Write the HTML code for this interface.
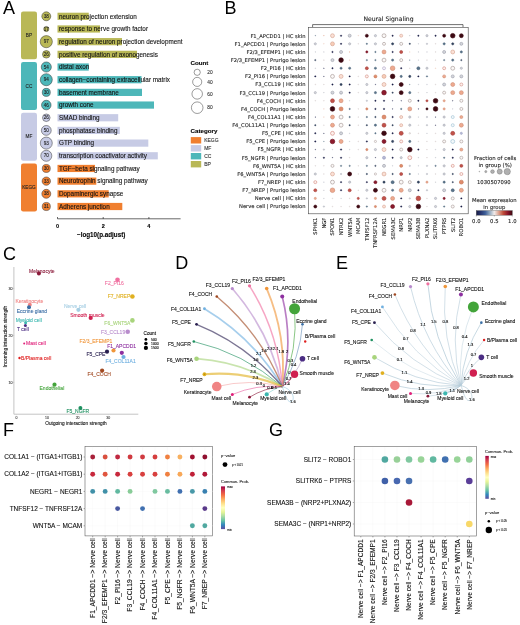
<!DOCTYPE html>
<html><head><meta charset="utf-8"><title>Figure</title>
<style>
html,body{margin:0;padding:0;background:#fff;}
svg{display:block;}
text{stroke-width:0.1px;}
text.l{font-family:"Liberation Sans",sans-serif;}
text.d{font-family:"DejaVu Sans",sans-serif;}
</style></head><body>
<svg width="520" height="625" viewBox="0 0 520 625">
<rect width="520" height="625" fill="#fff"/>
<text class="l" x="3.10" y="14.00" font-size="18" stroke="#000" style="stroke-width:0">A</text>
<rect x="21" y="11.40" width="16" height="47.84" rx="2.2" fill="#b9b857"/>
<text class="l" x="28.90" y="37.02" font-size="4.7" text-anchor="middle" fill="#222" stroke="#222">BP</text>
<rect x="21" y="62.12" width="16" height="47.84" rx="2.2" fill="#4db7b9"/>
<text class="l" x="28.90" y="87.74" font-size="4.7" text-anchor="middle" fill="#222" stroke="#222">CC</text>
<rect x="21" y="112.84" width="16" height="47.84" rx="2.2" fill="#c7cbe5"/>
<text class="l" x="28.90" y="138.46" font-size="4.7" text-anchor="middle" fill="#222" stroke="#222">MF</text>
<rect x="21" y="163.56" width="16" height="47.84" rx="2.2" fill="#f07f2f"/>
<text class="l" x="28.90" y="189.18" font-size="4.7" text-anchor="middle" fill="#222" stroke="#222">KEGG</text>
<rect x="57.5" y="12.70" width="31.25" height="7.2" fill="#b9b857"/>
<circle cx="46.3" cy="16.30" r="4.48" fill="#b9b857" stroke="#222" stroke-width="0.45"/>
<text class="l" x="46.30" y="17.95" font-size="4.6" text-anchor="middle" fill="#222" stroke="#222">38</text>
<text class="l" x="59.00" y="18.50" font-size="6.33" fill="#111" stroke="#111">neuron projection extension</text>
<rect x="57.5" y="25.38" width="42.50" height="7.2" fill="#b9b857"/>
<circle cx="46.3" cy="28.98" r="2.58" fill="#b9b857" stroke="#222" stroke-width="0.45"/>
<text class="l" x="46.30" y="30.63" font-size="4.6" text-anchor="middle" fill="#222" stroke="#222">17</text>
<text class="l" x="59.00" y="31.18" font-size="6.33" fill="#111" stroke="#111">response to nerve growth factor</text>
<rect x="57.5" y="38.06" width="64.50" height="7.2" fill="#b9b857"/>
<circle cx="46.3" cy="41.66" r="6.08" fill="#b9b857" stroke="#222" stroke-width="0.45"/>
<text class="l" x="46.30" y="43.31" font-size="4.6" text-anchor="middle" fill="#222" stroke="#222">97</text>
<text class="l" x="59.00" y="43.86" font-size="6.33" fill="#111" stroke="#111">regulation of neuron projection development</text>
<rect x="57.5" y="50.74" width="79.50" height="7.2" fill="#b9b857"/>
<circle cx="46.3" cy="54.34" r="3.78" fill="#b9b857" stroke="#222" stroke-width="0.45"/>
<text class="l" x="46.30" y="55.99" font-size="4.6" text-anchor="middle" fill="#222" stroke="#222">26</text>
<text class="l" x="59.00" y="56.54" font-size="6.33" fill="#111" stroke="#111">positive regulation of axonogenesis</text>
<rect x="57.5" y="63.42" width="31.25" height="7.2" fill="#4db7b9"/>
<circle cx="46.3" cy="67.02" r="5.07" fill="#4db7b9" stroke="#222" stroke-width="0.45"/>
<text class="l" x="46.30" y="68.67" font-size="4.6" text-anchor="middle" fill="#222" stroke="#222">54</text>
<text class="l" x="59.00" y="69.22" font-size="6.33" fill="#111" stroke="#111">distal axon</text>
<rect x="57.5" y="76.10" width="84.00" height="7.2" fill="#4db7b9"/>
<circle cx="46.3" cy="79.70" r="6.03" fill="#4db7b9" stroke="#222" stroke-width="0.45"/>
<text class="l" x="46.30" y="81.35" font-size="4.6" text-anchor="middle" fill="#222" stroke="#222">94</text>
<text class="l" x="59.00" y="81.90" font-size="6.33" fill="#111" stroke="#111">collagen−containing extracellular matrix</text>
<rect x="57.5" y="88.78" width="84.50" height="7.2" fill="#4db7b9"/>
<circle cx="46.3" cy="92.38" r="4.01" fill="#4db7b9" stroke="#222" stroke-width="0.45"/>
<text class="l" x="46.30" y="94.03" font-size="4.6" text-anchor="middle" fill="#222" stroke="#222">30</text>
<text class="l" x="59.00" y="94.58" font-size="6.33" fill="#111" stroke="#111">basement membrane</text>
<rect x="57.5" y="101.46" width="96.50" height="7.2" fill="#4db7b9"/>
<circle cx="46.3" cy="105.06" r="4.79" fill="#4db7b9" stroke="#222" stroke-width="0.45"/>
<text class="l" x="46.30" y="106.71" font-size="4.6" text-anchor="middle" fill="#222" stroke="#222">46</text>
<text class="l" x="59.00" y="107.26" font-size="6.33" fill="#111" stroke="#111">growth cone</text>
<rect x="57.5" y="114.14" width="60.70" height="7.2" fill="#c7cbe5"/>
<circle cx="46.3" cy="117.74" r="3.78" fill="#c7cbe5" stroke="#222" stroke-width="0.45"/>
<text class="l" x="46.30" y="119.39" font-size="4.6" text-anchor="middle" fill="#222" stroke="#222">26</text>
<text class="l" x="59.00" y="119.94" font-size="6.33" fill="#111" stroke="#111">SMAD binding</text>
<rect x="57.5" y="126.82" width="62.30" height="7.2" fill="#c7cbe5"/>
<circle cx="46.3" cy="130.42" r="4.93" fill="#c7cbe5" stroke="#222" stroke-width="0.45"/>
<text class="l" x="46.30" y="132.07" font-size="4.6" text-anchor="middle" fill="#222" stroke="#222">50</text>
<text class="l" x="59.00" y="132.62" font-size="6.33" fill="#111" stroke="#111">phosphatase binding</text>
<rect x="57.5" y="139.50" width="90.80" height="7.2" fill="#c7cbe5"/>
<circle cx="46.3" cy="143.10" r="6.01" fill="#c7cbe5" stroke="#222" stroke-width="0.45"/>
<text class="l" x="46.30" y="144.75" font-size="4.6" text-anchor="middle" fill="#222" stroke="#222">93</text>
<text class="l" x="59.00" y="145.30" font-size="6.33" fill="#111" stroke="#111">GTP binding</text>
<rect x="57.5" y="152.18" width="100.30" height="7.2" fill="#c7cbe5"/>
<circle cx="46.3" cy="155.78" r="5.53" fill="#c7cbe5" stroke="#222" stroke-width="0.45"/>
<text class="l" x="46.30" y="157.43" font-size="4.6" text-anchor="middle" fill="#222" stroke="#222">70</text>
<text class="l" x="59.00" y="157.98" font-size="6.33" fill="#111" stroke="#111">transcription coactivator activity</text>
<rect x="57.5" y="164.86" width="37.50" height="7.2" fill="#f07f2f"/>
<circle cx="46.3" cy="168.46" r="4.01" fill="#f07f2f" stroke="#222" stroke-width="0.45"/>
<text class="l" x="46.30" y="170.11" font-size="4.6" text-anchor="middle" fill="#222" stroke="#222">30</text>
<text class="l" x="59.00" y="170.66" font-size="6.33" fill="#111" stroke="#111">TGF−beta signaling pathway</text>
<rect x="57.5" y="177.54" width="38.80" height="7.2" fill="#f07f2f"/>
<circle cx="46.3" cy="181.14" r="4.19" fill="#f07f2f" stroke="#222" stroke-width="0.45"/>
<text class="l" x="46.30" y="182.79" font-size="4.6" text-anchor="middle" fill="#222" stroke="#222">33</text>
<text class="l" x="59.00" y="183.34" font-size="6.33" fill="#111" stroke="#111">Neurotrophin signaling pathway</text>
<rect x="57.5" y="190.22" width="51.20" height="7.2" fill="#f07f2f"/>
<circle cx="46.3" cy="193.82" r="4.48" fill="#f07f2f" stroke="#222" stroke-width="0.45"/>
<text class="l" x="46.30" y="195.47" font-size="4.6" text-anchor="middle" fill="#222" stroke="#222">38</text>
<text class="l" x="59.00" y="196.02" font-size="6.33" fill="#111" stroke="#111">Dopaminergic synapse</text>
<rect x="57.5" y="202.90" width="64.80" height="7.2" fill="#f07f2f"/>
<circle cx="46.3" cy="206.50" r="4.07" fill="#f07f2f" stroke="#222" stroke-width="0.45"/>
<text class="l" x="46.30" y="208.15" font-size="4.6" text-anchor="middle" fill="#222" stroke="#222">31</text>
<text class="l" x="59.00" y="208.70" font-size="6.33" fill="#111" stroke="#111">Adherens junction</text>
<path d="M57.5 218.8H180.6" stroke="#000" stroke-width="0.6" fill="none"/>
<path d="M57.5 217.0v1.8" stroke="#000" stroke-width="0.6"/>
<text class="l" x="57.50" y="227.60" font-size="5.5" text-anchor="middle" font-weight="bold" stroke="#000">0</text>
<path d="M103.2 217.0v1.8" stroke="#000" stroke-width="0.6"/>
<text class="l" x="103.20" y="227.60" font-size="5.5" text-anchor="middle" font-weight="bold" stroke="#000">2</text>
<path d="M148.9 217.0v1.8" stroke="#000" stroke-width="0.6"/>
<text class="l" x="148.90" y="227.60" font-size="5.5" text-anchor="middle" font-weight="bold" stroke="#000">4</text>
<text class="l" x="101.20" y="237.40" font-size="6.3" text-anchor="middle" font-weight="bold" stroke="#000">−log10(p.adjust)</text>
<text class="l" x="190.50" y="64.90" font-size="6.2" font-weight="bold" stroke="#000">Count</text>
<circle cx="197.2" cy="72.3" r="3.1" fill="#fff" stroke="#222" stroke-width="0.45"/>
<text class="l" x="207.30" y="74.00" font-size="4.8" fill="#333" stroke="#333">20</text>
<circle cx="197.2" cy="81.9" r="4.55" fill="#fff" stroke="#222" stroke-width="0.45"/>
<text class="l" x="207.30" y="83.60" font-size="4.8" fill="#333" stroke="#333">40</text>
<circle cx="197.2" cy="93.9" r="5.25" fill="#fff" stroke="#222" stroke-width="0.45"/>
<text class="l" x="207.30" y="95.60" font-size="4.8" fill="#333" stroke="#333">60</text>
<circle cx="197.2" cy="107.7" r="5.8" fill="#fff" stroke="#222" stroke-width="0.45"/>
<text class="l" x="207.30" y="109.40" font-size="4.8" fill="#333" stroke="#333">80</text>
<text class="l" x="190.50" y="133.00" font-size="6.2" font-weight="bold" stroke="#000">Category</text>
<rect x="190.8" y="137.10" width="10.4" height="6.4" fill="#f07f2f"/>
<text class="l" x="204.20" y="142.10" font-size="5.0" fill="#333" stroke="#333">KEGG</text>
<rect x="190.8" y="145.10" width="10.4" height="6.4" fill="#c7cbe5"/>
<text class="l" x="204.20" y="150.10" font-size="5.0" fill="#333" stroke="#333">MF</text>
<rect x="190.8" y="153.00" width="10.4" height="6.4" fill="#4db7b9"/>
<text class="l" x="204.20" y="158.00" font-size="5.0" fill="#333" stroke="#333">CC</text>
<rect x="190.8" y="161.00" width="10.4" height="6.4" fill="#b9b857"/>
<text class="l" x="204.20" y="166.00" font-size="5.0" fill="#333" stroke="#333">BP</text>
<text class="l" x="224.50" y="14.00" font-size="18" stroke="#000" style="stroke-width:0">B</text>
<text class="d" x="388.50" y="21.20" font-size="6.1" text-anchor="middle" fill="#222" stroke="#222">Neural Signaling</text>
<path d="M312.6 27.3V24.6H463V27.3" fill="none" stroke="#333" stroke-width="0.7"/>
<rect x="308.5" y="27.4" width="159.7" height="186.4" fill="#fff" stroke="#444" stroke-width="0.6"/>
<text class="d" x="305.50" y="37.60" font-size="5.2" text-anchor="end" fill="#222" stroke="#222">F1_APCDD1 | HC skin</text>
<circle cx="315.30" cy="35.70" r="0.38" fill="#5a758c" stroke="#455d72" stroke-width="0.25"/>
<circle cx="323.89" cy="35.70" r="0.38" fill="#eeaa8f" stroke="#d09079" stroke-width="0.25"/>
<circle cx="332.48" cy="35.70" r="1.95" fill="#fbe0d5" stroke="#d6a593" stroke-width="0.65"/>
<circle cx="341.07" cy="35.70" r="0.72" fill="#1a1e45" stroke="#1a1e45" stroke-width="0.35"/>
<circle cx="349.66" cy="35.70" r="1.5" fill="#d4d6dc" stroke="#9a9ca8" stroke-width="0.6"/>
<circle cx="358.25" cy="35.70" r="0.38" fill="#fbe0d5" stroke="#d6a593" stroke-width="0.25"/>
<circle cx="366.84" cy="35.70" r="1.5" fill="#3c0912" stroke="#3c0912" stroke-width="0.6"/>
<circle cx="375.43" cy="35.70" r="1.1" fill="#d4d6dc" stroke="#9a9ca8" stroke-width="0.5"/>
<circle cx="384.02" cy="35.70" r="1.95" fill="#fbf8f7" stroke="#a59794" stroke-width="0.65"/>
<circle cx="392.61" cy="35.70" r="0.72" fill="#1a1e45" stroke="#1a1e45" stroke-width="0.35"/>
<circle cx="401.20" cy="35.70" r="1.5" fill="#fbe0d5" stroke="#d6a593" stroke-width="0.6"/>
<circle cx="409.79" cy="35.70" r="0.38" fill="#d4d6dc" stroke="#9a9ca8" stroke-width="0.25"/>
<circle cx="418.38" cy="35.70" r="0.72" fill="#1a1e45" stroke="#1a1e45" stroke-width="0.35"/>
<circle cx="426.97" cy="35.70" r="1.1" fill="#d4d6dc" stroke="#9a9ca8" stroke-width="0.5"/>
<circle cx="435.56" cy="35.70" r="0.72" fill="#1a1e45" stroke="#1a1e45" stroke-width="0.35"/>
<circle cx="444.15" cy="35.70" r="1.5" fill="#3c0912" stroke="#3c0912" stroke-width="0.6"/>
<circle cx="452.74" cy="35.70" r="2.3" fill="#3c0912" stroke="#3c0912" stroke-width="0.65"/>
<circle cx="461.33" cy="35.70" r="1.95" fill="#3c0912" stroke="#3c0912" stroke-width="0.65"/>
<text class="d" x="305.50" y="45.73" font-size="5.2" text-anchor="end" fill="#222" stroke="#222">F1_APCDD1 | Prurigo lesion</text>
<circle cx="315.30" cy="43.84" r="1.1" fill="#d4d6dc" stroke="#9a9ca8" stroke-width="0.5"/>
<circle cx="323.89" cy="43.84" r="0.38" fill="#fbe0d5" stroke="#d6a593" stroke-width="0.25"/>
<circle cx="332.48" cy="43.84" r="1.95" fill="#f8cdb8" stroke="#d4a08c" stroke-width="0.65"/>
<circle cx="341.07" cy="43.84" r="0.72" fill="#1a1e45" stroke="#1a1e45" stroke-width="0.35"/>
<circle cx="349.66" cy="43.84" r="1.1" fill="#d4d6dc" stroke="#9a9ca8" stroke-width="0.5"/>
<circle cx="358.25" cy="43.84" r="0.38" fill="#fbf8f7" stroke="#a59794" stroke-width="0.25"/>
<circle cx="366.84" cy="43.84" r="0.72" fill="#5a758c" stroke="#455d72" stroke-width="0.35"/>
<circle cx="375.43" cy="43.84" r="1.1" fill="#d4d6dc" stroke="#9a9ca8" stroke-width="0.5"/>
<circle cx="384.02" cy="43.84" r="1.5" fill="#fbf8f7" stroke="#a59794" stroke-width="0.6"/>
<circle cx="392.61" cy="43.84" r="1.1" fill="#334562" stroke="#28364e" stroke-width="0.5"/>
<circle cx="401.20" cy="43.84" r="1.5" fill="#fbf8f7" stroke="#a59794" stroke-width="0.6"/>
<circle cx="409.79" cy="43.84" r="0.72" fill="#334562" stroke="#28364e" stroke-width="0.35"/>
<circle cx="418.38" cy="43.84" r="0.38" fill="#d4d6dc" stroke="#9a9ca8" stroke-width="0.25"/>
<circle cx="426.97" cy="43.84" r="0.72" fill="#d4d6dc" stroke="#9a9ca8" stroke-width="0.35"/>
<circle cx="435.56" cy="43.84" r="0.38" fill="#fbf8f7" stroke="#a59794" stroke-width="0.25"/>
<circle cx="444.15" cy="43.84" r="1.1" fill="#5a758c" stroke="#455d72" stroke-width="0.5"/>
<circle cx="452.74" cy="43.84" r="1.1" fill="#334562" stroke="#28364e" stroke-width="0.5"/>
<circle cx="461.33" cy="43.84" r="1.5" fill="#d4d6dc" stroke="#9a9ca8" stroke-width="0.6"/>
<text class="d" x="305.50" y="53.87" font-size="5.2" text-anchor="end" fill="#222" stroke="#222">F2/3_EFEMP1 | HC skin</text>
<circle cx="315.30" cy="51.97" r="0.38" fill="#d4d6dc" stroke="#9a9ca8" stroke-width="0.25"/>
<circle cx="323.89" cy="51.97" r="0.38" fill="#d4d6dc" stroke="#9a9ca8" stroke-width="0.25"/>
<circle cx="332.48" cy="51.97" r="0.72" fill="#1a1e45" stroke="#1a1e45" stroke-width="0.35"/>
<circle cx="341.07" cy="51.97" r="1.5" fill="#d4d6dc" stroke="#9a9ca8" stroke-width="0.6"/>
<circle cx="349.66" cy="51.97" r="0.38" fill="#eeaa8f" stroke="#d09079" stroke-width="0.25"/>
<circle cx="366.84" cy="51.97" r="1.1" fill="#8c1a2c" stroke="#701424" stroke-width="0.5"/>
<circle cx="375.43" cy="51.97" r="0.72" fill="#5a758c" stroke="#455d72" stroke-width="0.35"/>
<circle cx="384.02" cy="51.97" r="1.95" fill="#eeaa8f" stroke="#d09079" stroke-width="0.65"/>
<circle cx="392.61" cy="51.97" r="0.72" fill="#1a1e45" stroke="#1a1e45" stroke-width="0.35"/>
<circle cx="401.20" cy="51.97" r="1.5" fill="#c2524a" stroke="#a64440" stroke-width="0.6"/>
<circle cx="409.79" cy="51.97" r="0.38" fill="#fbe0d5" stroke="#d6a593" stroke-width="0.25"/>
<circle cx="418.38" cy="51.97" r="0.38" fill="#d4d6dc" stroke="#9a9ca8" stroke-width="0.25"/>
<circle cx="426.97" cy="51.97" r="0.38" fill="#d4d6dc" stroke="#9a9ca8" stroke-width="0.25"/>
<circle cx="435.56" cy="51.97" r="0.38" fill="#fbf8f7" stroke="#a59794" stroke-width="0.25"/>
<circle cx="444.15" cy="51.97" r="1.5" fill="#d4d6dc" stroke="#9a9ca8" stroke-width="0.6"/>
<circle cx="452.74" cy="51.97" r="1.95" fill="#fbe0d5" stroke="#d6a593" stroke-width="0.65"/>
<circle cx="461.33" cy="51.97" r="1.1" fill="#5a758c" stroke="#455d72" stroke-width="0.5"/>
<text class="d" x="305.50" y="62.01" font-size="5.2" text-anchor="end" fill="#222" stroke="#222">F2/3_EFEMP1 | Prurigo lesion</text>
<circle cx="315.30" cy="60.11" r="0.72" fill="#334562" stroke="#28364e" stroke-width="0.35"/>
<circle cx="323.89" cy="60.11" r="0.38" fill="#fbf8f7" stroke="#a59794" stroke-width="0.25"/>
<circle cx="332.48" cy="60.11" r="1.5" fill="#d4d6dc" stroke="#9a9ca8" stroke-width="0.6"/>
<circle cx="341.07" cy="60.11" r="2.3" fill="#3c0912" stroke="#3c0912" stroke-width="0.65"/>
<circle cx="349.66" cy="60.11" r="0.38" fill="#fbe0d5" stroke="#d6a593" stroke-width="0.25"/>
<circle cx="366.84" cy="60.11" r="0.72" fill="#5a758c" stroke="#455d72" stroke-width="0.35"/>
<circle cx="375.43" cy="60.11" r="0.72" fill="#5a758c" stroke="#455d72" stroke-width="0.35"/>
<circle cx="384.02" cy="60.11" r="1.95" fill="#fbf8f7" stroke="#a59794" stroke-width="0.65"/>
<circle cx="392.61" cy="60.11" r="1.1" fill="#5a758c" stroke="#455d72" stroke-width="0.5"/>
<circle cx="401.20" cy="60.11" r="1.5" fill="#fbf8f7" stroke="#a59794" stroke-width="0.6"/>
<circle cx="409.79" cy="60.11" r="0.38" fill="#5a758c" stroke="#455d72" stroke-width="0.25"/>
<circle cx="418.38" cy="60.11" r="0.38" fill="#d4d6dc" stroke="#9a9ca8" stroke-width="0.25"/>
<circle cx="426.97" cy="60.11" r="0.38" fill="#fbf8f7" stroke="#a59794" stroke-width="0.25"/>
<circle cx="435.56" cy="60.11" r="0.38" fill="#fbf8f7" stroke="#a59794" stroke-width="0.25"/>
<circle cx="444.15" cy="60.11" r="0.72" fill="#5a758c" stroke="#455d72" stroke-width="0.35"/>
<circle cx="452.74" cy="60.11" r="1.1" fill="#5a758c" stroke="#455d72" stroke-width="0.5"/>
<circle cx="461.33" cy="60.11" r="0.72" fill="#334562" stroke="#28364e" stroke-width="0.35"/>
<text class="d" x="305.50" y="70.14" font-size="5.2" text-anchor="end" fill="#222" stroke="#222">F2_PI16 | HC skin</text>
<circle cx="315.30" cy="68.24" r="0.38" fill="#d4d6dc" stroke="#9a9ca8" stroke-width="0.25"/>
<circle cx="323.89" cy="68.24" r="0.38" fill="#1a1e45" stroke="#1a1e45" stroke-width="0.25"/>
<circle cx="332.48" cy="68.24" r="0.72" fill="#1a1e45" stroke="#1a1e45" stroke-width="0.35"/>
<circle cx="341.07" cy="68.24" r="1.1" fill="#5a758c" stroke="#455d72" stroke-width="0.5"/>
<circle cx="349.66" cy="68.24" r="1.1" fill="#5a758c" stroke="#455d72" stroke-width="0.5"/>
<circle cx="366.84" cy="68.24" r="1.5" fill="#c2524a" stroke="#a64440" stroke-width="0.6"/>
<circle cx="375.43" cy="68.24" r="1.1" fill="#5a758c" stroke="#455d72" stroke-width="0.5"/>
<circle cx="384.02" cy="68.24" r="1.5" fill="#f5f3f9" stroke="#aea2c4" stroke-width="0.6"/>
<circle cx="392.61" cy="68.24" r="2.3" fill="#eeaa8f" stroke="#d09079" stroke-width="0.65"/>
<circle cx="401.20" cy="68.24" r="0.72" fill="#1a1e45" stroke="#1a1e45" stroke-width="0.35"/>
<circle cx="409.79" cy="68.24" r="0.38" fill="#fbf8f7" stroke="#a59794" stroke-width="0.25"/>
<circle cx="418.38" cy="68.24" r="1.5" fill="#5a758c" stroke="#455d72" stroke-width="0.6"/>
<circle cx="426.97" cy="68.24" r="1.1" fill="#d4d6dc" stroke="#9a9ca8" stroke-width="0.5"/>
<circle cx="435.56" cy="68.24" r="0.38" fill="#fbe0d5" stroke="#d6a593" stroke-width="0.25"/>
<circle cx="444.15" cy="68.24" r="1.5" fill="#fdf1ed" stroke="#d48a80" stroke-width="0.6"/>
<circle cx="452.74" cy="68.24" r="1.95" fill="#fbf8f7" stroke="#a59794" stroke-width="0.65"/>
<circle cx="461.33" cy="68.24" r="1.1" fill="#d4d6dc" stroke="#9a9ca8" stroke-width="0.5"/>
<text class="d" x="305.50" y="78.28" font-size="5.2" text-anchor="end" fill="#222" stroke="#222">F2_PI16 | Prurigo lesion</text>
<circle cx="315.30" cy="76.38" r="0.72" fill="#1a1e45" stroke="#1a1e45" stroke-width="0.35"/>
<circle cx="323.89" cy="76.38" r="0.38" fill="#1a1e45" stroke="#1a1e45" stroke-width="0.25"/>
<circle cx="332.48" cy="76.38" r="1.95" fill="#fbf8f7" stroke="#a59794" stroke-width="0.65"/>
<circle cx="341.07" cy="76.38" r="1.95" fill="#fbe0d5" stroke="#d6a593" stroke-width="0.65"/>
<circle cx="349.66" cy="76.38" r="0.72" fill="#1a1e45" stroke="#1a1e45" stroke-width="0.35"/>
<circle cx="358.25" cy="76.38" r="0.38" fill="#fbf8f7" stroke="#a59794" stroke-width="0.25"/>
<circle cx="366.84" cy="76.38" r="1.5" fill="#fdf1ed" stroke="#d48a80" stroke-width="0.6"/>
<circle cx="375.43" cy="76.38" r="1.5" fill="#e08c6c" stroke="#c67858" stroke-width="0.6"/>
<circle cx="384.02" cy="76.38" r="1.95" fill="#f8cdb8" stroke="#d4a08c" stroke-width="0.65"/>
<circle cx="392.61" cy="76.38" r="2.3" fill="#3c0912" stroke="#3c0912" stroke-width="0.65"/>
<circle cx="401.20" cy="76.38" r="1.1" fill="#5a758c" stroke="#455d72" stroke-width="0.5"/>
<circle cx="409.79" cy="76.38" r="1.1" fill="#334562" stroke="#28364e" stroke-width="0.5"/>
<circle cx="418.38" cy="76.38" r="0.72" fill="#1a1e45" stroke="#1a1e45" stroke-width="0.35"/>
<circle cx="426.97" cy="76.38" r="0.72" fill="#5a758c" stroke="#455d72" stroke-width="0.35"/>
<circle cx="444.15" cy="76.38" r="1.5" fill="#eeaa8f" stroke="#d09079" stroke-width="0.6"/>
<circle cx="452.74" cy="76.38" r="1.5" fill="#d4d6dc" stroke="#9a9ca8" stroke-width="0.6"/>
<circle cx="461.33" cy="76.38" r="1.5" fill="#d4d6dc" stroke="#9a9ca8" stroke-width="0.6"/>
<text class="d" x="305.50" y="86.41" font-size="5.2" text-anchor="end" fill="#222" stroke="#222">F3_CCL19 | HC skin</text>
<circle cx="315.30" cy="84.51" r="0.38" fill="#fbf8f7" stroke="#a59794" stroke-width="0.25"/>
<circle cx="323.89" cy="84.51" r="0.38" fill="#fbf8f7" stroke="#a59794" stroke-width="0.25"/>
<circle cx="332.48" cy="84.51" r="0.72" fill="#1a1e45" stroke="#1a1e45" stroke-width="0.35"/>
<circle cx="341.07" cy="84.51" r="1.1" fill="#334562" stroke="#28364e" stroke-width="0.5"/>
<circle cx="349.66" cy="84.51" r="0.72" fill="#1a1e45" stroke="#1a1e45" stroke-width="0.35"/>
<circle cx="358.25" cy="84.51" r="0.38" fill="#fbf8f7" stroke="#a59794" stroke-width="0.25"/>
<circle cx="366.84" cy="84.51" r="1.1" fill="#d4d6dc" stroke="#9a9ca8" stroke-width="0.5"/>
<circle cx="375.43" cy="84.51" r="0.38" fill="#1a1e45" stroke="#1a1e45" stroke-width="0.25"/>
<circle cx="384.02" cy="84.51" r="1.95" fill="#fbe0d5" stroke="#d6a593" stroke-width="0.65"/>
<circle cx="392.61" cy="84.51" r="0.72" fill="#1a1e45" stroke="#1a1e45" stroke-width="0.35"/>
<circle cx="401.20" cy="84.51" r="1.95" fill="#3c0912" stroke="#3c0912" stroke-width="0.65"/>
<circle cx="409.79" cy="84.51" r="0.38" fill="#5a758c" stroke="#455d72" stroke-width="0.25"/>
<circle cx="418.38" cy="84.51" r="0.38" fill="#d4d6dc" stroke="#9a9ca8" stroke-width="0.25"/>
<circle cx="426.97" cy="84.51" r="0.38" fill="#d4d6dc" stroke="#9a9ca8" stroke-width="0.25"/>
<circle cx="435.56" cy="84.51" r="0.38" fill="#fbf8f7" stroke="#a59794" stroke-width="0.25"/>
<circle cx="444.15" cy="84.51" r="1.5" fill="#d4d6dc" stroke="#9a9ca8" stroke-width="0.6"/>
<circle cx="452.74" cy="84.51" r="1.95" fill="#eeaa8f" stroke="#d09079" stroke-width="0.65"/>
<circle cx="461.33" cy="84.51" r="1.5" fill="#fdf1ed" stroke="#d48a80" stroke-width="0.6"/>
<text class="d" x="305.50" y="94.55" font-size="5.2" text-anchor="end" fill="#222" stroke="#222">F3_CCL19 | Prurigo lesion</text>
<circle cx="315.30" cy="92.65" r="1.1" fill="#d4d6dc" stroke="#9a9ca8" stroke-width="0.5"/>
<circle cx="323.89" cy="92.65" r="0.38" fill="#d4d6dc" stroke="#9a9ca8" stroke-width="0.25"/>
<circle cx="332.48" cy="92.65" r="1.5" fill="#d4d6dc" stroke="#9a9ca8" stroke-width="0.6"/>
<circle cx="341.07" cy="92.65" r="1.5" fill="#d4d6dc" stroke="#9a9ca8" stroke-width="0.6"/>
<circle cx="349.66" cy="92.65" r="0.72" fill="#1a1e45" stroke="#1a1e45" stroke-width="0.35"/>
<circle cx="358.25" cy="92.65" r="0.38" fill="#fbf8f7" stroke="#a59794" stroke-width="0.25"/>
<circle cx="366.84" cy="92.65" r="1.1" fill="#d4d6dc" stroke="#9a9ca8" stroke-width="0.5"/>
<circle cx="375.43" cy="92.65" r="1.1" fill="#5a758c" stroke="#455d72" stroke-width="0.5"/>
<circle cx="384.02" cy="92.65" r="2.3" fill="#8c1a2c" stroke="#701424" stroke-width="0.65"/>
<circle cx="392.61" cy="92.65" r="0.72" fill="#334562" stroke="#28364e" stroke-width="0.35"/>
<circle cx="401.20" cy="92.65" r="1.95" fill="#3c0912" stroke="#3c0912" stroke-width="0.65"/>
<circle cx="409.79" cy="92.65" r="1.1" fill="#5a758c" stroke="#455d72" stroke-width="0.5"/>
<circle cx="418.38" cy="92.65" r="0.38" fill="#fbf8f7" stroke="#a59794" stroke-width="0.25"/>
<circle cx="426.97" cy="92.65" r="0.38" fill="#d4d6dc" stroke="#9a9ca8" stroke-width="0.25"/>
<circle cx="435.56" cy="92.65" r="0.38" fill="#fbf8f7" stroke="#a59794" stroke-width="0.25"/>
<circle cx="444.15" cy="92.65" r="1.5" fill="#fbf8f7" stroke="#a59794" stroke-width="0.6"/>
<circle cx="452.74" cy="92.65" r="1.95" fill="#eeaa8f" stroke="#d09079" stroke-width="0.65"/>
<circle cx="461.33" cy="92.65" r="1.95" fill="#eeaa8f" stroke="#d09079" stroke-width="0.65"/>
<text class="d" x="305.50" y="102.68" font-size="5.2" text-anchor="end" fill="#222" stroke="#222">F4_COCH | HC skin</text>
<circle cx="315.30" cy="100.78" r="0.38" fill="#fbf8f7" stroke="#a59794" stroke-width="0.25"/>
<circle cx="323.89" cy="100.78" r="0.38" fill="#fbf8f7" stroke="#a59794" stroke-width="0.25"/>
<circle cx="332.48" cy="100.78" r="1.95" fill="#c2524a" stroke="#a64440" stroke-width="0.65"/>
<circle cx="341.07" cy="100.78" r="1.95" fill="#eeaa8f" stroke="#d09079" stroke-width="0.65"/>
<circle cx="349.66" cy="100.78" r="0.38" fill="#d4d6dc" stroke="#9a9ca8" stroke-width="0.25"/>
<circle cx="366.84" cy="100.78" r="0.72" fill="#d4d6dc" stroke="#9a9ca8" stroke-width="0.35"/>
<circle cx="375.43" cy="100.78" r="0.72" fill="#1a1e45" stroke="#1a1e45" stroke-width="0.35"/>
<circle cx="384.02" cy="100.78" r="0.72" fill="#1a1e45" stroke="#1a1e45" stroke-width="0.35"/>
<circle cx="392.61" cy="100.78" r="0.38" fill="#1a1e45" stroke="#1a1e45" stroke-width="0.25"/>
<circle cx="401.20" cy="100.78" r="0.38" fill="#1a1e45" stroke="#1a1e45" stroke-width="0.25"/>
<circle cx="409.79" cy="100.78" r="1.5" fill="#fbf8f7" stroke="#a59794" stroke-width="0.6"/>
<circle cx="418.38" cy="100.78" r="0.72" fill="#1a1e45" stroke="#1a1e45" stroke-width="0.35"/>
<circle cx="426.97" cy="100.78" r="1.1" fill="#c2524a" stroke="#a64440" stroke-width="0.5"/>
<circle cx="435.56" cy="100.78" r="2.3" fill="#3c0912" stroke="#3c0912" stroke-width="0.65"/>
<circle cx="444.15" cy="100.78" r="1.1" fill="#eeaa8f" stroke="#d09079" stroke-width="0.5"/>
<circle cx="452.74" cy="100.78" r="0.38" fill="#1a1e45" stroke="#1a1e45" stroke-width="0.25"/>
<circle cx="461.33" cy="100.78" r="1.5" fill="#fbf8f7" stroke="#a59794" stroke-width="0.6"/>
<text class="d" x="305.50" y="110.82" font-size="5.2" text-anchor="end" fill="#222" stroke="#222">F4_COCH | Prurigo lesion</text>
<circle cx="323.89" cy="108.92" r="0.38" fill="#fbe0d5" stroke="#d6a593" stroke-width="0.25"/>
<circle cx="332.48" cy="108.92" r="2.3" fill="#3c0912" stroke="#3c0912" stroke-width="0.65"/>
<circle cx="341.07" cy="108.92" r="1.95" fill="#e08c6c" stroke="#c67858" stroke-width="0.65"/>
<circle cx="349.66" cy="108.92" r="0.72" fill="#5a758c" stroke="#455d72" stroke-width="0.35"/>
<circle cx="358.25" cy="108.92" r="0.38" fill="#fbf8f7" stroke="#a59794" stroke-width="0.25"/>
<circle cx="366.84" cy="108.92" r="1.1" fill="#e08c6c" stroke="#c67858" stroke-width="0.5"/>
<circle cx="375.43" cy="108.92" r="0.72" fill="#1a1e45" stroke="#1a1e45" stroke-width="0.35"/>
<circle cx="384.02" cy="108.92" r="0.72" fill="#1a1e45" stroke="#1a1e45" stroke-width="0.35"/>
<circle cx="392.61" cy="108.92" r="0.38" fill="#1a1e45" stroke="#1a1e45" stroke-width="0.25"/>
<circle cx="401.20" cy="108.92" r="0.72" fill="#5a758c" stroke="#455d72" stroke-width="0.35"/>
<circle cx="409.79" cy="108.92" r="1.95" fill="#eeaa8f" stroke="#d09079" stroke-width="0.65"/>
<circle cx="418.38" cy="108.92" r="0.38" fill="#1a1e45" stroke="#1a1e45" stroke-width="0.25"/>
<circle cx="426.97" cy="108.92" r="1.1" fill="#3c0912" stroke="#3c0912" stroke-width="0.5"/>
<circle cx="435.56" cy="108.92" r="2.3" fill="#3c0912" stroke="#3c0912" stroke-width="0.65"/>
<circle cx="444.15" cy="108.92" r="1.1" fill="#eeaa8f" stroke="#d09079" stroke-width="0.5"/>
<circle cx="452.74" cy="108.92" r="0.38" fill="#d4d6dc" stroke="#9a9ca8" stroke-width="0.25"/>
<circle cx="461.33" cy="108.92" r="1.5" fill="#fbf8f7" stroke="#a59794" stroke-width="0.6"/>
<text class="d" x="305.50" y="118.95" font-size="5.2" text-anchor="end" fill="#222" stroke="#222">F4_COL11A1 | HC skin</text>
<circle cx="315.30" cy="117.05" r="0.38" fill="#1a1e45" stroke="#1a1e45" stroke-width="0.25"/>
<circle cx="323.89" cy="117.05" r="0.38" fill="#fbe0d5" stroke="#d6a593" stroke-width="0.25"/>
<circle cx="332.48" cy="117.05" r="1.95" fill="#eeaa8f" stroke="#d09079" stroke-width="0.65"/>
<circle cx="341.07" cy="117.05" r="1.95" fill="#fbf8f7" stroke="#a59794" stroke-width="0.65"/>
<circle cx="349.66" cy="117.05" r="0.72" fill="#5a758c" stroke="#455d72" stroke-width="0.35"/>
<circle cx="358.25" cy="117.05" r="0.38" fill="#fbf8f7" stroke="#a59794" stroke-width="0.25"/>
<circle cx="366.84" cy="117.05" r="0.72" fill="#5a758c" stroke="#455d72" stroke-width="0.35"/>
<circle cx="375.43" cy="117.05" r="0.72" fill="#334562" stroke="#28364e" stroke-width="0.35"/>
<circle cx="384.02" cy="117.05" r="1.95" fill="#e08c6c" stroke="#c67858" stroke-width="0.65"/>
<circle cx="392.61" cy="117.05" r="0.72" fill="#1a1e45" stroke="#1a1e45" stroke-width="0.35"/>
<circle cx="401.20" cy="117.05" r="1.5" fill="#fbe0d5" stroke="#d6a593" stroke-width="0.6"/>
<circle cx="409.79" cy="117.05" r="1.1" fill="#d4d6dc" stroke="#9a9ca8" stroke-width="0.5"/>
<circle cx="418.38" cy="117.05" r="0.38" fill="#d4d6dc" stroke="#9a9ca8" stroke-width="0.25"/>
<circle cx="426.97" cy="117.05" r="0.72" fill="#d4d6dc" stroke="#9a9ca8" stroke-width="0.35"/>
<circle cx="435.56" cy="117.05" r="0.38" fill="#1a1e45" stroke="#1a1e45" stroke-width="0.25"/>
<circle cx="444.15" cy="117.05" r="1.1" fill="#d4d6dc" stroke="#9a9ca8" stroke-width="0.5"/>
<circle cx="452.74" cy="117.05" r="1.5" fill="#f3f8fa" stroke="#9cbfd3" stroke-width="0.6"/>
<circle cx="461.33" cy="117.05" r="1.5" fill="#eeaa8f" stroke="#d09079" stroke-width="0.6"/>
<text class="d" x="305.50" y="127.09" font-size="5.2" text-anchor="end" fill="#222" stroke="#222">F4_COL11A1 | Prurigo lesion</text>
<circle cx="315.30" cy="125.19" r="0.72" fill="#334562" stroke="#28364e" stroke-width="0.35"/>
<circle cx="323.89" cy="125.19" r="0.38" fill="#fbf8f7" stroke="#a59794" stroke-width="0.25"/>
<circle cx="332.48" cy="125.19" r="1.95" fill="#eeaa8f" stroke="#d09079" stroke-width="0.65"/>
<circle cx="341.07" cy="125.19" r="1.95" fill="#fbf8f7" stroke="#a59794" stroke-width="0.65"/>
<circle cx="349.66" cy="125.19" r="0.72" fill="#334562" stroke="#28364e" stroke-width="0.35"/>
<circle cx="358.25" cy="125.19" r="0.38" fill="#fbf8f7" stroke="#a59794" stroke-width="0.25"/>
<circle cx="366.84" cy="125.19" r="0.72" fill="#334562" stroke="#28364e" stroke-width="0.35"/>
<circle cx="375.43" cy="125.19" r="1.1" fill="#5a758c" stroke="#455d72" stroke-width="0.5"/>
<circle cx="384.02" cy="125.19" r="1.95" fill="#c2524a" stroke="#a64440" stroke-width="0.65"/>
<circle cx="392.61" cy="125.19" r="0.72" fill="#334562" stroke="#28364e" stroke-width="0.35"/>
<circle cx="401.20" cy="125.19" r="1.5" fill="#fbe0d5" stroke="#d6a593" stroke-width="0.6"/>
<circle cx="409.79" cy="125.19" r="1.1" fill="#d4d6dc" stroke="#9a9ca8" stroke-width="0.5"/>
<circle cx="418.38" cy="125.19" r="0.38" fill="#fbf8f7" stroke="#a59794" stroke-width="0.25"/>
<circle cx="426.97" cy="125.19" r="0.72" fill="#d4d6dc" stroke="#9a9ca8" stroke-width="0.35"/>
<circle cx="435.56" cy="125.19" r="0.38" fill="#1a1e45" stroke="#1a1e45" stroke-width="0.25"/>
<circle cx="444.15" cy="125.19" r="1.1" fill="#d4d6dc" stroke="#9a9ca8" stroke-width="0.5"/>
<circle cx="452.74" cy="125.19" r="1.5" fill="#f3f8fa" stroke="#9cbfd3" stroke-width="0.6"/>
<circle cx="461.33" cy="125.19" r="1.95" fill="#eeaa8f" stroke="#d09079" stroke-width="0.65"/>
<text class="d" x="305.50" y="135.22" font-size="5.2" text-anchor="end" fill="#222" stroke="#222">F5_CPE | HC skin</text>
<circle cx="315.30" cy="133.32" r="0.72" fill="#1a1e45" stroke="#1a1e45" stroke-width="0.35"/>
<circle cx="323.89" cy="133.32" r="0.38" fill="#1a1e45" stroke="#1a1e45" stroke-width="0.25"/>
<circle cx="332.48" cy="133.32" r="1.95" fill="#fdf1ed" stroke="#d48a80" stroke-width="0.65"/>
<circle cx="341.07" cy="133.32" r="1.5" fill="#d4d6dc" stroke="#9a9ca8" stroke-width="0.6"/>
<circle cx="349.66" cy="133.32" r="0.38" fill="#d4d6dc" stroke="#9a9ca8" stroke-width="0.25"/>
<circle cx="366.84" cy="133.32" r="1.1" fill="#d4d6dc" stroke="#9a9ca8" stroke-width="0.5"/>
<circle cx="375.43" cy="133.32" r="0.72" fill="#5a758c" stroke="#455d72" stroke-width="0.35"/>
<circle cx="384.02" cy="133.32" r="2.3" fill="#3c0912" stroke="#3c0912" stroke-width="0.65"/>
<circle cx="392.61" cy="133.32" r="0.72" fill="#1a1e45" stroke="#1a1e45" stroke-width="0.35"/>
<circle cx="401.20" cy="133.32" r="1.95" fill="#c2524a" stroke="#a64440" stroke-width="0.65"/>
<circle cx="409.79" cy="133.32" r="0.72" fill="#fbf8f7" stroke="#a59794" stroke-width="0.35"/>
<circle cx="418.38" cy="133.32" r="0.38" fill="#fbf8f7" stroke="#a59794" stroke-width="0.25"/>
<circle cx="426.97" cy="133.32" r="0.38" fill="#d4d6dc" stroke="#9a9ca8" stroke-width="0.25"/>
<circle cx="435.56" cy="133.32" r="0.38" fill="#fbf8f7" stroke="#a59794" stroke-width="0.25"/>
<circle cx="444.15" cy="133.32" r="1.1" fill="#d4d6dc" stroke="#9a9ca8" stroke-width="0.5"/>
<circle cx="452.74" cy="133.32" r="1.95" fill="#c2524a" stroke="#a64440" stroke-width="0.65"/>
<circle cx="461.33" cy="133.32" r="1.1" fill="#b6bad6" stroke="#9296ba" stroke-width="0.5"/>
<text class="d" x="305.50" y="143.35" font-size="5.2" text-anchor="end" fill="#222" stroke="#222">F5_CPE | Prurigo lesion</text>
<circle cx="315.30" cy="141.45" r="0.72" fill="#1a1e45" stroke="#1a1e45" stroke-width="0.35"/>
<circle cx="323.89" cy="141.45" r="0.38" fill="#5a758c" stroke="#455d72" stroke-width="0.25"/>
<circle cx="332.48" cy="141.45" r="2.3" fill="#8c1a2c" stroke="#701424" stroke-width="0.65"/>
<circle cx="341.07" cy="141.45" r="1.95" fill="#eeaa8f" stroke="#d09079" stroke-width="0.65"/>
<circle cx="349.66" cy="141.45" r="0.38" fill="#d4d6dc" stroke="#9a9ca8" stroke-width="0.25"/>
<circle cx="358.25" cy="141.45" r="0.38" fill="#fbf8f7" stroke="#a59794" stroke-width="0.25"/>
<circle cx="366.84" cy="141.45" r="0.72" fill="#1a1e45" stroke="#1a1e45" stroke-width="0.35"/>
<circle cx="375.43" cy="141.45" r="1.1" fill="#fbf8f7" stroke="#a59794" stroke-width="0.5"/>
<circle cx="384.02" cy="141.45" r="1.95" fill="#8c1a2c" stroke="#701424" stroke-width="0.65"/>
<circle cx="392.61" cy="141.45" r="1.1" fill="#334562" stroke="#28364e" stroke-width="0.5"/>
<circle cx="401.20" cy="141.45" r="1.5" fill="#fdf1ed" stroke="#d48a80" stroke-width="0.6"/>
<circle cx="409.79" cy="141.45" r="1.1" fill="#5a758c" stroke="#455d72" stroke-width="0.5"/>
<circle cx="418.38" cy="141.45" r="0.38" fill="#fbf8f7" stroke="#a59794" stroke-width="0.25"/>
<circle cx="426.97" cy="141.45" r="0.38" fill="#fbf8f7" stroke="#a59794" stroke-width="0.25"/>
<circle cx="435.56" cy="141.45" r="0.38" fill="#fbf8f7" stroke="#a59794" stroke-width="0.25"/>
<circle cx="444.15" cy="141.45" r="1.5" fill="#fbf8f7" stroke="#a59794" stroke-width="0.6"/>
<circle cx="452.74" cy="141.45" r="1.95" fill="#f3f8fa" stroke="#9cbfd3" stroke-width="0.65"/>
<circle cx="461.33" cy="141.45" r="1.5" fill="#fbf8f7" stroke="#a59794" stroke-width="0.6"/>
<text class="d" x="305.50" y="151.49" font-size="5.2" text-anchor="end" fill="#222" stroke="#222">F5_NGFR | HC skin</text>
<circle cx="315.30" cy="149.59" r="0.38" fill="#1a1e45" stroke="#1a1e45" stroke-width="0.25"/>
<circle cx="323.89" cy="149.59" r="0.72" fill="#d4d6dc" stroke="#9a9ca8" stroke-width="0.35"/>
<circle cx="332.48" cy="149.59" r="0.38" fill="#d4d6dc" stroke="#9a9ca8" stroke-width="0.25"/>
<circle cx="341.07" cy="149.59" r="0.72" fill="#1a1e45" stroke="#1a1e45" stroke-width="0.35"/>
<circle cx="349.66" cy="149.59" r="0.38" fill="#d4d6dc" stroke="#9a9ca8" stroke-width="0.25"/>
<circle cx="358.25" cy="149.59" r="0.38" fill="#fbf8f7" stroke="#a59794" stroke-width="0.25"/>
<circle cx="366.84" cy="149.59" r="1.1" fill="#e08c6c" stroke="#c67858" stroke-width="0.5"/>
<circle cx="375.43" cy="149.59" r="1.1" fill="#d4d6dc" stroke="#9a9ca8" stroke-width="0.5"/>
<circle cx="384.02" cy="149.59" r="1.95" fill="#fbe0d5" stroke="#d6a593" stroke-width="0.65"/>
<circle cx="392.61" cy="149.59" r="0.72" fill="#1a1e45" stroke="#1a1e45" stroke-width="0.35"/>
<circle cx="401.20" cy="149.59" r="1.5" fill="#fbf8f7" stroke="#a59794" stroke-width="0.6"/>
<circle cx="409.79" cy="149.59" r="2.3" fill="#3c0912" stroke="#3c0912" stroke-width="0.65"/>
<circle cx="418.38" cy="149.59" r="0.72" fill="#1a1e45" stroke="#1a1e45" stroke-width="0.35"/>
<circle cx="426.97" cy="149.59" r="0.38" fill="#fbf8f7" stroke="#a59794" stroke-width="0.25"/>
<circle cx="435.56" cy="149.59" r="0.38" fill="#d4d6dc" stroke="#9a9ca8" stroke-width="0.25"/>
<circle cx="444.15" cy="149.59" r="1.1" fill="#d4d6dc" stroke="#9a9ca8" stroke-width="0.5"/>
<circle cx="452.74" cy="149.59" r="0.72" fill="#1a1e45" stroke="#1a1e45" stroke-width="0.35"/>
<circle cx="461.33" cy="149.59" r="1.5" fill="#eeaa8f" stroke="#d09079" stroke-width="0.6"/>
<text class="d" x="305.50" y="159.62" font-size="5.2" text-anchor="end" fill="#222" stroke="#222">F5_NGFR | Prurigo lesion</text>
<circle cx="315.30" cy="157.72" r="0.38" fill="#1a1e45" stroke="#1a1e45" stroke-width="0.25"/>
<circle cx="323.89" cy="157.72" r="0.72" fill="#1a1e45" stroke="#1a1e45" stroke-width="0.35"/>
<circle cx="332.48" cy="157.72" r="0.38" fill="#1a1e45" stroke="#1a1e45" stroke-width="0.25"/>
<circle cx="341.07" cy="157.72" r="0.72" fill="#1a1e45" stroke="#1a1e45" stroke-width="0.35"/>
<circle cx="349.66" cy="157.72" r="0.38" fill="#fbf8f7" stroke="#a59794" stroke-width="0.25"/>
<circle cx="366.84" cy="157.72" r="1.1" fill="#d4d6dc" stroke="#9a9ca8" stroke-width="0.5"/>
<circle cx="375.43" cy="157.72" r="0.38" fill="#1a1e45" stroke="#1a1e45" stroke-width="0.25"/>
<circle cx="384.02" cy="157.72" r="1.5" fill="#b6bad6" stroke="#9296ba" stroke-width="0.6"/>
<circle cx="392.61" cy="157.72" r="0.72" fill="#1a1e45" stroke="#1a1e45" stroke-width="0.35"/>
<circle cx="401.20" cy="157.72" r="1.1" fill="#d4d6dc" stroke="#9a9ca8" stroke-width="0.5"/>
<circle cx="409.79" cy="157.72" r="1.95" fill="#fdf1ed" stroke="#d48a80" stroke-width="0.65"/>
<circle cx="418.38" cy="157.72" r="0.38" fill="#d4d6dc" stroke="#9a9ca8" stroke-width="0.25"/>
<circle cx="426.97" cy="157.72" r="0.38" fill="#fbf8f7" stroke="#a59794" stroke-width="0.25"/>
<circle cx="435.56" cy="157.72" r="0.38" fill="#d4d6dc" stroke="#9a9ca8" stroke-width="0.25"/>
<circle cx="444.15" cy="157.72" r="0.72" fill="#5a758c" stroke="#455d72" stroke-width="0.35"/>
<circle cx="452.74" cy="157.72" r="0.72" fill="#1a1e45" stroke="#1a1e45" stroke-width="0.35"/>
<circle cx="461.33" cy="157.72" r="1.5" fill="#fbf8f7" stroke="#a59794" stroke-width="0.6"/>
<text class="d" x="305.50" y="167.76" font-size="5.2" text-anchor="end" fill="#222" stroke="#222">F6_WNT5A | HC skin</text>
<circle cx="315.30" cy="165.86" r="0.38" fill="#fbf8f7" stroke="#a59794" stroke-width="0.25"/>
<circle cx="323.89" cy="165.86" r="0.38" fill="#fbf8f7" stroke="#a59794" stroke-width="0.25"/>
<circle cx="332.48" cy="165.86" r="1.5" fill="#fbf8f7" stroke="#a59794" stroke-width="0.6"/>
<circle cx="341.07" cy="165.86" r="0.72" fill="#5a758c" stroke="#455d72" stroke-width="0.35"/>
<circle cx="349.66" cy="165.86" r="0.72" fill="#5a758c" stroke="#455d72" stroke-width="0.35"/>
<circle cx="358.25" cy="165.86" r="0.38" fill="#fbf8f7" stroke="#a59794" stroke-width="0.25"/>
<circle cx="366.84" cy="165.86" r="0.72" fill="#5a758c" stroke="#455d72" stroke-width="0.35"/>
<circle cx="375.43" cy="165.86" r="0.72" fill="#334562" stroke="#28364e" stroke-width="0.35"/>
<circle cx="384.02" cy="165.86" r="1.5" fill="#d4d6dc" stroke="#9a9ca8" stroke-width="0.6"/>
<circle cx="392.61" cy="165.86" r="0.38" fill="#d4d6dc" stroke="#9a9ca8" stroke-width="0.25"/>
<circle cx="401.20" cy="165.86" r="1.5" fill="#e08c6c" stroke="#c67858" stroke-width="0.6"/>
<circle cx="409.79" cy="165.86" r="0.72" fill="#d4d6dc" stroke="#9a9ca8" stroke-width="0.35"/>
<circle cx="418.38" cy="165.86" r="0.38" fill="#d4d6dc" stroke="#9a9ca8" stroke-width="0.25"/>
<circle cx="426.97" cy="165.86" r="0.72" fill="#d4d6dc" stroke="#9a9ca8" stroke-width="0.35"/>
<circle cx="435.56" cy="165.86" r="0.72" fill="#5a758c" stroke="#455d72" stroke-width="0.35"/>
<circle cx="444.15" cy="165.86" r="1.1" fill="#d4d6dc" stroke="#9a9ca8" stroke-width="0.5"/>
<circle cx="452.74" cy="165.86" r="1.5" fill="#fdf1ed" stroke="#d48a80" stroke-width="0.6"/>
<circle cx="461.33" cy="165.86" r="1.5" fill="#c2524a" stroke="#a64440" stroke-width="0.6"/>
<text class="d" x="305.50" y="175.90" font-size="5.2" text-anchor="end" fill="#222" stroke="#222">F6_WNT5A | Prurigo lesion</text>
<circle cx="315.30" cy="174.00" r="1.1" fill="#d4d6dc" stroke="#9a9ca8" stroke-width="0.5"/>
<circle cx="323.89" cy="174.00" r="0.38" fill="#fbf8f7" stroke="#a59794" stroke-width="0.25"/>
<circle cx="332.48" cy="174.00" r="1.95" fill="#fbe0d5" stroke="#d6a593" stroke-width="0.65"/>
<circle cx="341.07" cy="174.00" r="0.72" fill="#d4d6dc" stroke="#9a9ca8" stroke-width="0.35"/>
<circle cx="349.66" cy="174.00" r="1.95" fill="#3c0912" stroke="#3c0912" stroke-width="0.65"/>
<circle cx="358.25" cy="174.00" r="0.38" fill="#fbf8f7" stroke="#a59794" stroke-width="0.25"/>
<circle cx="366.84" cy="174.00" r="0.72" fill="#334562" stroke="#28364e" stroke-width="0.35"/>
<circle cx="375.43" cy="174.00" r="1.1" fill="#fbf8f7" stroke="#a59794" stroke-width="0.5"/>
<circle cx="384.02" cy="174.00" r="1.95" fill="#fbe0d5" stroke="#d6a593" stroke-width="0.65"/>
<circle cx="392.61" cy="174.00" r="0.72" fill="#334562" stroke="#28364e" stroke-width="0.35"/>
<circle cx="401.20" cy="174.00" r="1.5" fill="#c2524a" stroke="#a64440" stroke-width="0.6"/>
<circle cx="409.79" cy="174.00" r="0.72" fill="#5a758c" stroke="#455d72" stroke-width="0.35"/>
<circle cx="418.38" cy="174.00" r="0.38" fill="#d4d6dc" stroke="#9a9ca8" stroke-width="0.25"/>
<circle cx="426.97" cy="174.00" r="0.72" fill="#d4d6dc" stroke="#9a9ca8" stroke-width="0.35"/>
<circle cx="435.56" cy="174.00" r="0.38" fill="#fbf8f7" stroke="#a59794" stroke-width="0.25"/>
<circle cx="444.15" cy="174.00" r="1.1" fill="#d4d6dc" stroke="#9a9ca8" stroke-width="0.5"/>
<circle cx="452.74" cy="174.00" r="0.72" fill="#334562" stroke="#28364e" stroke-width="0.35"/>
<circle cx="461.33" cy="174.00" r="1.5" fill="#fdf1ed" stroke="#d48a80" stroke-width="0.6"/>
<text class="d" x="305.50" y="184.03" font-size="5.2" text-anchor="end" fill="#222" stroke="#222">F7_NREP | HC skin</text>
<circle cx="315.30" cy="182.13" r="1.5" fill="#fdf1ed" stroke="#d48a80" stroke-width="0.6"/>
<circle cx="323.89" cy="182.13" r="0.38" fill="#d4d6dc" stroke="#9a9ca8" stroke-width="0.25"/>
<circle cx="332.48" cy="182.13" r="1.95" fill="#fbf8f7" stroke="#a59794" stroke-width="0.65"/>
<circle cx="341.07" cy="182.13" r="0.72" fill="#1a1e45" stroke="#1a1e45" stroke-width="0.35"/>
<circle cx="349.66" cy="182.13" r="1.1" fill="#d4d6dc" stroke="#9a9ca8" stroke-width="0.5"/>
<circle cx="366.84" cy="182.13" r="0.72" fill="#1a1e45" stroke="#1a1e45" stroke-width="0.35"/>
<circle cx="375.43" cy="182.13" r="1.5" fill="#8c1a2c" stroke="#701424" stroke-width="0.6"/>
<circle cx="384.02" cy="182.13" r="1.1" fill="#334562" stroke="#28364e" stroke-width="0.5"/>
<circle cx="392.61" cy="182.13" r="1.5" fill="#5a758c" stroke="#455d72" stroke-width="0.6"/>
<circle cx="401.20" cy="182.13" r="1.95" fill="#fbf8f7" stroke="#a59794" stroke-width="0.65"/>
<circle cx="409.79" cy="182.13" r="1.5" fill="#fbf8f7" stroke="#a59794" stroke-width="0.6"/>
<circle cx="418.38" cy="182.13" r="1.1" fill="#334562" stroke="#28364e" stroke-width="0.5"/>
<circle cx="426.97" cy="182.13" r="1.1" fill="#eeaa8f" stroke="#d09079" stroke-width="0.5"/>
<circle cx="435.56" cy="182.13" r="0.38" fill="#d4d6dc" stroke="#9a9ca8" stroke-width="0.25"/>
<circle cx="444.15" cy="182.13" r="1.1" fill="#5a758c" stroke="#455d72" stroke-width="0.5"/>
<circle cx="452.74" cy="182.13" r="0.72" fill="#334562" stroke="#28364e" stroke-width="0.35"/>
<circle cx="461.33" cy="182.13" r="1.95" fill="#e08c6c" stroke="#c67858" stroke-width="0.65"/>
<text class="d" x="305.50" y="192.16" font-size="5.2" text-anchor="end" fill="#222" stroke="#222">F7_NREP | Prurigo lesion</text>
<circle cx="315.30" cy="190.26" r="1.5" fill="#c2524a" stroke="#a64440" stroke-width="0.6"/>
<circle cx="323.89" cy="190.26" r="0.38" fill="#d4d6dc" stroke="#9a9ca8" stroke-width="0.25"/>
<circle cx="332.48" cy="190.26" r="2.3" fill="#eeaa8f" stroke="#d09079" stroke-width="0.65"/>
<circle cx="341.07" cy="190.26" r="0.72" fill="#1a1e45" stroke="#1a1e45" stroke-width="0.35"/>
<circle cx="349.66" cy="190.26" r="1.5" fill="#c2524a" stroke="#a64440" stroke-width="0.6"/>
<circle cx="358.25" cy="190.26" r="0.38" fill="#fbf8f7" stroke="#a59794" stroke-width="0.25"/>
<circle cx="366.84" cy="190.26" r="1.1" fill="#d4d6dc" stroke="#9a9ca8" stroke-width="0.5"/>
<circle cx="375.43" cy="190.26" r="1.95" fill="#3c0912" stroke="#3c0912" stroke-width="0.65"/>
<circle cx="384.02" cy="190.26" r="1.95" fill="#fbf8f7" stroke="#a59794" stroke-width="0.65"/>
<circle cx="392.61" cy="190.26" r="1.1" fill="#5a758c" stroke="#455d72" stroke-width="0.5"/>
<circle cx="401.20" cy="190.26" r="1.95" fill="#eeaa8f" stroke="#d09079" stroke-width="0.65"/>
<circle cx="409.79" cy="190.26" r="1.5" fill="#d4d6dc" stroke="#9a9ca8" stroke-width="0.6"/>
<circle cx="418.38" cy="190.26" r="0.72" fill="#1a1e45" stroke="#1a1e45" stroke-width="0.35"/>
<circle cx="426.97" cy="190.26" r="0.72" fill="#d4d6dc" stroke="#9a9ca8" stroke-width="0.35"/>
<circle cx="444.15" cy="190.26" r="1.5" fill="#d4d6dc" stroke="#9a9ca8" stroke-width="0.6"/>
<circle cx="452.74" cy="190.26" r="1.5" fill="#5a758c" stroke="#455d72" stroke-width="0.6"/>
<circle cx="461.33" cy="190.26" r="1.95" fill="#eeaa8f" stroke="#d09079" stroke-width="0.65"/>
<text class="d" x="305.50" y="200.30" font-size="5.2" text-anchor="end" fill="#222" stroke="#222">Nerve cell | HC skin</text>
<circle cx="315.30" cy="198.40" r="1.1" fill="#eeaa8f" stroke="#d09079" stroke-width="0.5"/>
<circle cx="323.89" cy="198.40" r="0.38" fill="#d4d6dc" stroke="#9a9ca8" stroke-width="0.25"/>
<circle cx="332.48" cy="198.40" r="0.38" fill="#fbf8f7" stroke="#a59794" stroke-width="0.25"/>
<circle cx="341.07" cy="198.40" r="0.38" fill="#d4d6dc" stroke="#9a9ca8" stroke-width="0.25"/>
<circle cx="349.66" cy="198.40" r="0.38" fill="#fbf8f7" stroke="#a59794" stroke-width="0.25"/>
<circle cx="358.25" cy="198.40" r="1.1" fill="#c2524a" stroke="#a64440" stroke-width="0.5"/>
<circle cx="366.84" cy="198.40" r="0.72" fill="#d4d6dc" stroke="#9a9ca8" stroke-width="0.35"/>
<circle cx="375.43" cy="198.40" r="1.1" fill="#eeaa8f" stroke="#d09079" stroke-width="0.5"/>
<circle cx="384.02" cy="198.40" r="1.95" fill="#c2524a" stroke="#a64440" stroke-width="0.65"/>
<circle cx="392.61" cy="198.40" r="1.95" fill="#eeaa8f" stroke="#d09079" stroke-width="0.65"/>
<circle cx="401.20" cy="198.40" r="0.72" fill="#1a1e45" stroke="#1a1e45" stroke-width="0.35"/>
<circle cx="409.79" cy="198.40" r="0.72" fill="#d4d6dc" stroke="#9a9ca8" stroke-width="0.35"/>
<circle cx="418.38" cy="198.40" r="2.3" fill="#c2524a" stroke="#a64440" stroke-width="0.65"/>
<circle cx="426.97" cy="198.40" r="0.38" fill="#fbf8f7" stroke="#a59794" stroke-width="0.25"/>
<circle cx="435.56" cy="198.40" r="1.1" fill="#d4d6dc" stroke="#9a9ca8" stroke-width="0.5"/>
<circle cx="444.15" cy="198.40" r="1.1" fill="#8c1a2c" stroke="#701424" stroke-width="0.5"/>
<circle cx="452.74" cy="198.40" r="1.5" fill="#fbf8f7" stroke="#a59794" stroke-width="0.6"/>
<circle cx="461.33" cy="198.40" r="0.72" fill="#1a1e45" stroke="#1a1e45" stroke-width="0.35"/>
<text class="d" x="305.50" y="208.44" font-size="5.2" text-anchor="end" fill="#222" stroke="#222">Nerve cell | Prurigo lesion</text>
<circle cx="315.30" cy="206.54" r="1.5" fill="#3c0912" stroke="#3c0912" stroke-width="0.6"/>
<circle cx="323.89" cy="206.54" r="0.72" fill="#d4d6dc" stroke="#9a9ca8" stroke-width="0.35"/>
<circle cx="332.48" cy="206.54" r="0.38" fill="#fbf8f7" stroke="#a59794" stroke-width="0.25"/>
<circle cx="341.07" cy="206.54" r="0.38" fill="#fbf8f7" stroke="#a59794" stroke-width="0.25"/>
<circle cx="349.66" cy="206.54" r="0.38" fill="#fbf8f7" stroke="#a59794" stroke-width="0.25"/>
<circle cx="358.25" cy="206.54" r="1.5" fill="#3c0912" stroke="#3c0912" stroke-width="0.6"/>
<circle cx="366.84" cy="206.54" r="0.72" fill="#5a758c" stroke="#455d72" stroke-width="0.35"/>
<circle cx="375.43" cy="206.54" r="1.1" fill="#e08c6c" stroke="#c67858" stroke-width="0.5"/>
<circle cx="384.02" cy="206.54" r="1.5" fill="#fbe0d5" stroke="#d6a593" stroke-width="0.6"/>
<circle cx="392.61" cy="206.54" r="1.95" fill="#8c1a2c" stroke="#701424" stroke-width="0.65"/>
<circle cx="401.20" cy="206.54" r="0.72" fill="#1a1e45" stroke="#1a1e45" stroke-width="0.35"/>
<circle cx="409.79" cy="206.54" r="1.1" fill="#d4d6dc" stroke="#9a9ca8" stroke-width="0.5"/>
<circle cx="418.38" cy="206.54" r="2.3" fill="#3c0912" stroke="#3c0912" stroke-width="0.65"/>
<circle cx="426.97" cy="206.54" r="0.38" fill="#fbf8f7" stroke="#a59794" stroke-width="0.25"/>
<circle cx="435.56" cy="206.54" r="1.1" fill="#d4d6dc" stroke="#9a9ca8" stroke-width="0.5"/>
<circle cx="444.15" cy="206.54" r="0.72" fill="#5a758c" stroke="#455d72" stroke-width="0.35"/>
<circle cx="452.74" cy="206.54" r="1.5" fill="#fbf8f7" stroke="#a59794" stroke-width="0.6"/>
<circle cx="461.33" cy="206.54" r="0.72" fill="#1a1e45" stroke="#1a1e45" stroke-width="0.35"/>
<text class="d" x="317.20" y="217.60" font-size="5.25" text-anchor="end" fill="#222" stroke="#222" transform="rotate(-90 317.20 217.60)">SPHK1</text>
<text class="d" x="325.79" y="217.60" font-size="5.25" text-anchor="end" fill="#222" stroke="#222" transform="rotate(-90 325.79 217.60)">NGF</text>
<text class="d" x="334.38" y="217.60" font-size="5.25" text-anchor="end" fill="#222" stroke="#222" transform="rotate(-90 334.38 217.60)">SPON1</text>
<text class="d" x="342.97" y="217.60" font-size="5.25" text-anchor="end" fill="#222" stroke="#222" transform="rotate(-90 342.97 217.60)">NTRK2</text>
<text class="d" x="351.56" y="217.60" font-size="5.25" text-anchor="end" fill="#222" stroke="#222" transform="rotate(-90 351.56 217.60)">WNT5A</text>
<text class="d" x="360.15" y="217.60" font-size="5.25" text-anchor="end" fill="#222" stroke="#222" transform="rotate(-90 360.15 217.60)">MCAM</text>
<text class="d" x="368.74" y="217.60" font-size="5.25" text-anchor="end" fill="#222" stroke="#222" transform="rotate(-90 368.74 217.60)">TNFSF12</text>
<text class="d" x="377.33" y="217.60" font-size="5.25" text-anchor="end" fill="#222" stroke="#222" transform="rotate(-90 377.33 217.60)">TNFRSF12A</text>
<text class="d" x="385.92" y="217.60" font-size="5.25" text-anchor="end" fill="#222" stroke="#222" transform="rotate(-90 385.92 217.60)">NEGR1</text>
<text class="d" x="394.51" y="217.60" font-size="5.25" text-anchor="end" fill="#222" stroke="#222" transform="rotate(-90 394.51 217.60)">SEMA3C</text>
<text class="d" x="403.10" y="217.60" font-size="5.25" text-anchor="end" fill="#222" stroke="#222" transform="rotate(-90 403.10 217.60)">NRP1</text>
<text class="d" x="411.69" y="217.60" font-size="5.25" text-anchor="end" fill="#222" stroke="#222" transform="rotate(-90 411.69 217.60)">NRP2</text>
<text class="d" x="420.28" y="217.60" font-size="5.25" text-anchor="end" fill="#222" stroke="#222" transform="rotate(-90 420.28 217.60)">SEMA3B</text>
<text class="d" x="428.87" y="217.60" font-size="5.25" text-anchor="end" fill="#222" stroke="#222" transform="rotate(-90 428.87 217.60)">PLXNA2</text>
<text class="d" x="437.46" y="217.60" font-size="5.25" text-anchor="end" fill="#222" stroke="#222" transform="rotate(-90 437.46 217.60)">SLITRK6</text>
<text class="d" x="446.05" y="217.60" font-size="5.25" text-anchor="end" fill="#222" stroke="#222" transform="rotate(-90 446.05 217.60)">PTPRS</text>
<text class="d" x="454.64" y="217.60" font-size="5.25" text-anchor="end" fill="#222" stroke="#222" transform="rotate(-90 454.64 217.60)">SLIT2</text>
<text class="d" x="463.23" y="217.60" font-size="5.25" text-anchor="end" fill="#222" stroke="#222" transform="rotate(-90 463.23 217.60)">ROBO1</text>
<text class="d" x="495.20" y="160.40" font-size="5.4" text-anchor="middle" fill="#222" stroke="#222">Fraction of cells</text>
<text class="d" x="495.20" y="166.70" font-size="5.4" text-anchor="middle" fill="#222" stroke="#222">in group (%)</text>
<circle cx="479.3" cy="171.6" r="0.4" fill="#b0b0b0" stroke="#555" stroke-width="0.3"/>
<circle cx="485.8" cy="171.6" r="1.1" fill="#b0b0b0" stroke="#555" stroke-width="0.3"/>
<circle cx="492.5" cy="171.6" r="1.9" fill="#b0b0b0" stroke="#555" stroke-width="0.3"/>
<circle cx="499.7" cy="171.6" r="2.6" fill="#b0b0b0" stroke="#555" stroke-width="0.3"/>
<circle cx="507.3" cy="171.6" r="3.2" fill="#b0b0b0" stroke="#555" stroke-width="0.3"/>
<text class="d" x="493.80" y="184.20" font-size="5.3" text-anchor="middle" fill="#222" stroke="#222">1030507090</text>
<text class="d" x="494.30" y="202.20" font-size="5.3" text-anchor="middle" fill="#222" stroke="#222">Mean expression</text>
<text class="d" x="494.30" y="208.50" font-size="5.3" text-anchor="middle" fill="#222" stroke="#222">in group</text>
<defs><linearGradient id="gbal" x1="0" x2="1" y1="0" y2="0"><stop offset="0.0" stop-color="#181c43"/><stop offset="0.12" stop-color="#27356f"/><stop offset="0.25" stop-color="#3e5f99"/><stop offset="0.375" stop-color="#93abc2"/><stop offset="0.5" stop-color="#f1eceb"/><stop offset="0.625" stop-color="#dda08c"/><stop offset="0.75" stop-color="#bf4b38"/><stop offset="0.875" stop-color="#8c1529"/><stop offset="1.0" stop-color="#3c0912"/></linearGradient></defs>
<rect x="476.3" y="210.6" width="36" height="4.6" fill="url(#gbal)" stroke="#333" stroke-width="0.3"/>
<path d="M476.3 215.2v1.3" stroke="#333" stroke-width="0.35"/>
<text class="d" x="476.30" y="222.60" font-size="5.3" text-anchor="middle" fill="#222" stroke="#222">0.0</text>
<path d="M494.3 215.2v1.3" stroke="#333" stroke-width="0.35"/>
<text class="d" x="494.30" y="222.60" font-size="5.3" text-anchor="middle" fill="#222" stroke="#222">0.5</text>
<path d="M512.3 215.2v1.3" stroke="#333" stroke-width="0.35"/>
<text class="d" x="512.30" y="222.60" font-size="5.3" text-anchor="middle" fill="#222" stroke="#222">1.0</text>
<text class="l" x="2.95" y="260.20" font-size="18" stroke="#000" style="stroke-width:0">C</text>
<path d="M13.9 267V414.2H138.3" fill="none" stroke="#bdbdbd" stroke-width="0.9"/>
<path d="M13.2 288.4h1" stroke="#9a9a9a" stroke-width="0.4"/>
<text class="l" x="12.60" y="289.70" font-size="3.6" text-anchor="end" fill="#333" stroke="#333">30</text>
<path d="M13.2 335.4h1" stroke="#9a9a9a" stroke-width="0.4"/>
<text class="l" x="12.60" y="336.70" font-size="3.6" text-anchor="end" fill="#333" stroke="#333">20</text>
<path d="M13.2 382.3h1" stroke="#9a9a9a" stroke-width="0.4"/>
<text class="l" x="12.60" y="383.60" font-size="3.6" text-anchor="end" fill="#333" stroke="#333">10</text>
<path d="M16.4 414.5v0.8" stroke="#bdbdbd" stroke-width="0.4"/>
<text class="l" x="16.40" y="418.60" font-size="3.5" text-anchor="middle" fill="#444" stroke="#444">0</text>
<path d="M46.9 414.5v0.8" stroke="#bdbdbd" stroke-width="0.4"/>
<text class="l" x="46.90" y="418.60" font-size="3.5" text-anchor="middle" fill="#444" stroke="#444">10</text>
<path d="M77.6 414.5v0.8" stroke="#bdbdbd" stroke-width="0.4"/>
<text class="l" x="77.60" y="418.60" font-size="3.5" text-anchor="middle" fill="#444" stroke="#444">20</text>
<path d="M108.2 414.5v0.8" stroke="#bdbdbd" stroke-width="0.4"/>
<text class="l" x="108.20" y="418.60" font-size="3.5" text-anchor="middle" fill="#444" stroke="#444">30</text>
<text class="l" x="6.70" y="336.60" font-size="4.8" text-anchor="middle" fill="#111" stroke="#111" transform="rotate(-90 6.70 336.60)">Incoming interaction strength</text>
<text class="l" x="76.00" y="424.50" font-size="4.8" text-anchor="middle" fill="#111" stroke="#111">Outgoing interaction strength</text>
<circle cx="38.9" cy="273.5" r="2.00" fill="#8b1a3a"/>
<circle cx="29.8" cy="304.7" r="2.00" fill="#f08484"/>
<circle cx="29.0" cy="307.2" r="2.00" fill="#3a6ea5"/>
<circle cx="25.6" cy="322.8" r="1.50" fill="#3cb8b0"/>
<circle cx="25.4" cy="325.6" r="1.50" fill="#4b2d83"/>
<circle cx="24.2" cy="343.4" r="1.00" fill="#e0207a"/>
<circle cx="19.5" cy="358.0" r="1.20" fill="#e02020"/>
<circle cx="54.5" cy="384.7" r="2.10" fill="#43a43a"/>
<circle cx="80.4" cy="407.9" r="2.00" fill="#1e9060"/>
<circle cx="117.5" cy="279.8" r="2.30" fill="#f070a0"/>
<circle cx="132.4" cy="296.5" r="2.30" fill="#e0b020"/>
<circle cx="78.4" cy="309.8" r="2.10" fill="#a6cee3"/>
<circle cx="90.7" cy="317.9" r="2.10" fill="#d02050"/>
<circle cx="132.4" cy="320.4" r="2.30" fill="#a8d47c"/>
<circle cx="127.7" cy="331.8" r="2.30" fill="#b88ccc"/>
<circle cx="113.5" cy="350.5" r="2.10" fill="#f0963a"/>
<circle cx="121.8" cy="352.8" r="2.10" fill="#8e30a0"/>
<circle cx="107.0" cy="351.7" r="2.10" fill="#2a2050"/>
<circle cx="123.5" cy="357.0" r="2.10" fill="#70b0e0"/>
<circle cx="102.1" cy="370.5" r="2.10" fill="#a04820"/>
<text class="l" x="41.80" y="272.65" font-size="5.0" text-anchor="middle" fill="#8b1a3a" stroke="#8b1a3a">Melanocyte</text>
<text class="l" x="29.30" y="303.15" font-size="5.0" text-anchor="middle" fill="#f08484" stroke="#f08484">Keratinocyte</text>
<text class="l" x="31.90" y="312.75" font-size="5.0" text-anchor="middle" fill="#3a6ea5" stroke="#3a6ea5">Eccrine gland</text>
<text class="l" x="28.70" y="321.65" font-size="5.0" text-anchor="middle" fill="#3cb8b0" stroke="#3cb8b0">Myeloid cell</text>
<text class="l" x="22.90" y="331.45" font-size="5.0" text-anchor="middle" fill="#4b2d83" stroke="#4b2d83">T cell</text>
<text class="l" x="35.90" y="344.95" font-size="5.0" text-anchor="middle" fill="#e0207a" stroke="#e0207a">Mast cell</text>
<text class="l" x="36.20" y="359.95" font-size="5.0" text-anchor="middle" fill="#e02020" stroke="#e02020">B/Plasma cell</text>
<text class="l" x="51.90" y="389.75" font-size="5.0" text-anchor="middle" fill="#43a43a" stroke="#43a43a">Endothelial</text>
<text class="l" x="77.80" y="412.95" font-size="5.0" text-anchor="middle" fill="#1e9060" stroke="#1e9060">F5_NGFR</text>
<text class="l" x="114.30" y="284.75" font-size="5.0" text-anchor="middle" fill="#f070a0" stroke="#f070a0">F2_PI16</text>
<text class="l" x="119.00" y="298.25" font-size="5.0" text-anchor="middle" fill="#e0b020" stroke="#e0b020">F7_NREP</text>
<text class="l" x="75.10" y="308.45" font-size="5.0" text-anchor="middle" fill="#a6cee3" stroke="#a6cee3">Nerve cell</text>
<text class="l" x="87.40" y="316.85" font-size="5.0" text-anchor="middle" fill="#d02050" stroke="#d02050">Smooth muscle</text>
<text class="l" x="117.40" y="324.55" font-size="5.0" text-anchor="middle" fill="#a8d47c" stroke="#a8d47c">F6_WNT5A</text>
<text class="l" x="113.10" y="333.55" font-size="5.0" text-anchor="middle" fill="#b88ccc" stroke="#b88ccc">F3_CCL19</text>
<text class="l" x="95.90" y="342.95" font-size="5.0" text-anchor="middle" fill="#f0963a" stroke="#f0963a">F2/3_EFEMP1</text>
<text class="l" x="121.60" y="348.15" font-size="5.0" text-anchor="middle" fill="#8e30a0" stroke="#8e30a0">F1_APCDD1</text>
<text class="l" x="96.00" y="356.25" font-size="5.0" text-anchor="middle" fill="#2a2050" stroke="#2a2050">F5_CPE</text>
<text class="l" x="120.60" y="362.55" font-size="5.0" text-anchor="middle" fill="#70b0e0" stroke="#70b0e0">F4_COL11A1</text>
<text class="l" x="99.20" y="375.75" font-size="5.0" text-anchor="middle" fill="#a04820" stroke="#a04820">F4_COCH</text>
<text class="l" x="143.50" y="335.20" font-size="4.7" stroke="#000">Count</text>
<circle cx="145.9" cy="339.4" r="1.4" fill="#000"/>
<text class="l" x="151.00" y="340.60" font-size="3.4" stroke="#000">500</text>
<circle cx="145.9" cy="343.4" r="1.75" fill="#000"/>
<text class="l" x="151.00" y="344.60" font-size="3.4" stroke="#000">1000</text>
<circle cx="145.9" cy="347.9" r="2.1" fill="#000"/>
<text class="l" x="151.00" y="349.10" font-size="3.4" stroke="#000">1500</text>
<text class="l" x="175.30" y="269.00" font-size="18" stroke="#000" style="stroke-width:0">D</text>
<path d="M302.47 324.29Q300.14 357.95 282.24 386.56" fill="none" stroke="#3a6ea5" stroke-width="0.75" stroke-opacity="0.62" stroke-linecap="round"/>
<path d="M294.56 308.76Q298.13 349.20 282.24 386.56" fill="none" stroke="#43a43a" stroke-width="1.0" stroke-opacity="0.62" stroke-linecap="round"/>
<path d="M282.24 296.44Q293.51 341.50 282.24 386.56" fill="none" stroke="#8e30a0" stroke-width="1.66" stroke-opacity="0.62" stroke-linecap="round"/>
<path d="M266.71 288.53Q286.73 335.60 282.24 386.56" fill="none" stroke="#f0963a" stroke-width="1.84" stroke-opacity="0.62" stroke-linecap="round"/>
<path d="M249.50 285.80Q278.47 332.09 282.24 386.56" fill="none" stroke="#f070a0" stroke-width="1.47" stroke-opacity="0.62" stroke-linecap="round"/>
<path d="M232.29 288.53Q269.52 331.30 282.24 386.56" fill="none" stroke="#b88ccc" stroke-width="1.75" stroke-opacity="0.62" stroke-linecap="round"/>
<path d="M216.76 296.44Q260.77 333.32 282.24 386.56" fill="none" stroke="#a04820" stroke-width="1.38" stroke-opacity="0.62" stroke-linecap="round"/>
<path d="M204.44 308.76Q253.06 337.94 282.24 386.56" fill="none" stroke="#70b0e0" stroke-width="1.66" stroke-opacity="0.62" stroke-linecap="round"/>
<path d="M196.53 324.29Q247.17 344.71 282.24 386.56" fill="none" stroke="#2a2050" stroke-width="1.38" stroke-opacity="0.62" stroke-linecap="round"/>
<path d="M193.80 341.50Q243.65 352.98 282.24 386.56" fill="none" stroke="#1e9060" stroke-width="1.0" stroke-opacity="0.62" stroke-linecap="round"/>
<path d="M196.53 358.71Q242.86 361.92 282.24 386.56" fill="none" stroke="#a8d47c" stroke-width="1.75" stroke-opacity="0.62" stroke-linecap="round"/>
<path d="M204.44 374.24Q244.88 370.68 282.24 386.56" fill="none" stroke="#e0b020" stroke-width="2.12" stroke-opacity="0.62" stroke-linecap="round"/>
<path d="M216.76 386.56Q249.50 378.38 282.24 386.56" fill="none" stroke="#f08484" stroke-width="0.7" stroke-opacity="0.62" stroke-linecap="round"/>
<path d="M232.29 394.47Q256.27 384.27 282.24 386.56" fill="none" stroke="#e0207a" stroke-width="0.7" stroke-opacity="0.62" stroke-linecap="round"/>
<path d="M249.50 397.20Q264.54 387.79 282.24 386.56" fill="none" stroke="#8b1a3a" stroke-width="1.0" stroke-opacity="0.62" stroke-linecap="round"/>
<path d="M266.71 394.47Q273.49 388.58 282.24 386.56" fill="none" stroke="#3cb8b0" stroke-width="0.6" stroke-opacity="0.62" stroke-linecap="round"/>
<path d="M294.56 374.24Q289.94 381.94 282.24 386.56" fill="none" stroke="#d02050" stroke-width="1.0" stroke-opacity="0.62" stroke-linecap="round"/>
<path d="M302.47 358.71Q295.84 375.17 282.24 386.56" fill="none" stroke="#4b2d83" stroke-width="0.45" stroke-opacity="0.62" stroke-linecap="round"/>
<path d="M282.24 386.56C294.24 389.56 296.24 402.56 289.24 401.56C285.24 398.56 284.24 391.56 282.24 386.56" fill="none" stroke="#a6cee3" stroke-width="0.7"/>
<text class="l" x="292.90" y="402.70" font-size="4.1" text-anchor="middle" stroke="#000">1.6</text>
<text class="l" x="287.00" y="384.50" font-size="4.1" text-anchor="middle" stroke="#000">1.4</text>
<circle cx="305.20" cy="341.50" r="1.2" fill="#e02020"/>
<circle cx="302.47" cy="324.29" r="1.3" fill="#3a6ea5"/>
<circle cx="294.56" cy="308.76" r="5.5" fill="#43a43a"/>
<circle cx="282.24" cy="296.44" r="2.0" fill="#8e30a0"/>
<circle cx="266.71" cy="288.53" r="1.8" fill="#f0963a"/>
<circle cx="249.50" cy="285.80" r="1.6" fill="#f070a0"/>
<circle cx="232.29" cy="288.53" r="1.6" fill="#b88ccc"/>
<circle cx="216.76" cy="296.44" r="1.3" fill="#a04820"/>
<circle cx="204.44" cy="308.76" r="1.4" fill="#70b0e0"/>
<circle cx="196.53" cy="324.29" r="1.4" fill="#2a2050"/>
<circle cx="193.80" cy="341.50" r="1.3" fill="#1e9060"/>
<circle cx="196.53" cy="358.71" r="2.3" fill="#a8d47c"/>
<circle cx="204.44" cy="374.24" r="1.9" fill="#e0b020"/>
<circle cx="216.76" cy="386.56" r="4.8" fill="#f08484"/>
<circle cx="232.29" cy="394.47" r="1.5" fill="#e0207a"/>
<circle cx="249.50" cy="397.20" r="1.4" fill="#8b1a3a"/>
<circle cx="266.71" cy="394.47" r="2.1" fill="#3cb8b0"/>
<circle cx="294.56" cy="374.24" r="3.7" fill="#d02050"/>
<circle cx="302.47" cy="358.71" r="2.8" fill="#4b2d83"/>
<circle cx="204.44" cy="374.24" r="0.75" fill="#b8900c"/>
<text class="l" x="255.40" y="379.20" font-size="4.1" text-anchor="middle" stroke="#000">2.3</text>
<text class="l" x="253.00" y="372.50" font-size="4.1" text-anchor="middle" stroke="#000">2.3</text>
<text class="l" x="253.50" y="366.90" font-size="4.1" text-anchor="middle" stroke="#000">1.2</text>
<text class="l" x="255.80" y="361.10" font-size="4.1" text-anchor="middle" stroke="#000">1.6</text>
<text class="l" x="258.80" y="355.10" font-size="4.1" text-anchor="middle" stroke="#000">2.1</text>
<text class="l" x="264.00" y="351.90" font-size="4.1" text-anchor="middle" stroke="#000">1.6</text>
<text class="l" x="269.80" y="350.00" font-size="4.1" text-anchor="middle" stroke="#000">2.3</text>
<text class="l" x="275.60" y="350.00" font-size="4.1" text-anchor="middle" stroke="#000">2.1</text>
<text class="l" x="281.30" y="353.20" font-size="4.1" text-anchor="middle" stroke="#000">1.9</text>
<text class="l" x="287.10" y="353.20" font-size="4.1" text-anchor="middle" stroke="#000">2</text>
<text class="l" x="290.40" y="362.10" font-size="4.1" text-anchor="middle" stroke="#000">0.3</text>
<text class="l" x="293.50" y="365.90" font-size="4.1" text-anchor="middle" stroke="#000">0.4</text>
<text class="l" x="289.50" y="373.80" font-size="4.1" text-anchor="middle" stroke="#000">0</text>
<text class="l" x="288.50" y="379.80" font-size="4.1" text-anchor="middle" stroke="#000">0.7</text>
<text class="l" x="259.20" y="384.60" font-size="4.1" text-anchor="middle" stroke="#000">0.3</text>
<text class="l" x="264.00" y="387.30" font-size="4.1" text-anchor="middle" stroke="#000">0</text>
<text class="l" x="270.20" y="389.30" font-size="4.1" text-anchor="middle" stroke="#000">0.6</text>
<text class="l" x="274.20" y="389.30" font-size="4.1" text-anchor="middle" stroke="#000">0.1</text>
<text class="l" x="273.00" y="290.25" font-size="5.0" fill="#111" stroke="#111">F1_APCDD1</text>
<text class="l" x="252.50" y="281.15" font-size="5.0" fill="#111" stroke="#111">F2/3_EFEMP1</text>
<text class="l" x="232.00" y="282.55" font-size="5.0" fill="#111" stroke="#111">F2_PI16</text>
<text class="l" x="205.80" y="286.55" font-size="5.0" fill="#111" stroke="#111">F3_CCL19</text>
<text class="l" x="188.80" y="295.95" font-size="5.0" fill="#111" stroke="#111">F4_COCH</text>
<text class="l" x="171.00" y="310.55" font-size="5.0" fill="#111" stroke="#111">F4_COL11A1</text>
<text class="l" x="172.00" y="324.45" font-size="5.0" fill="#111" stroke="#111">F5_CPE</text>
<text class="l" x="168.00" y="345.55" font-size="5.0" fill="#111" stroke="#111">F5_NGFR</text>
<text class="l" x="166.70" y="361.75" font-size="5.0" fill="#111" stroke="#111">F6_WNT5A</text>
<text class="l" x="180.20" y="381.55" font-size="5.0" fill="#111" stroke="#111">F7_NREP</text>
<text class="l" x="183.70" y="393.75" font-size="5.0" fill="#111" stroke="#111">Keratinocyte</text>
<text class="l" x="211.50" y="400.45" font-size="5.0" fill="#111" stroke="#111">Mast cell</text>
<text class="l" x="232.50" y="404.65" font-size="5.0" fill="#111" stroke="#111">Melanocyte</text>
<text class="l" x="260.20" y="400.45" font-size="5.0" fill="#111" stroke="#111">Myeloid cell</text>
<text class="l" x="278.50" y="393.75" font-size="5.0" fill="#111" stroke="#111">Nerve cell</text>
<text class="l" x="299.60" y="374.75" font-size="5.0" fill="#111" stroke="#111">Smooth muscle</text>
<text class="l" x="307.00" y="360.45" font-size="5.0" fill="#111" stroke="#111">T cell</text>
<text class="l" x="305.00" y="338.45" font-size="5.0" fill="#111" stroke="#111">B/Plasma cell</text>
<text class="l" x="296.20" y="322.95" font-size="5.0" fill="#111" stroke="#111">Eccrine gland</text>
<text class="l" x="292.30" y="302.95" font-size="5.0" fill="#111" stroke="#111">Endothelial</text>
<text class="l" x="335.90" y="269.00" font-size="18" stroke="#000" style="stroke-width:0">E</text>
<path d="M460.93 385.47Q466.83 359.84 484.10 340.00" fill="none" stroke="#b4cbd8" stroke-width="0.52"/>
<path d="M460.93 385.47Q463.29 351.50 481.35 322.63" fill="none" stroke="#b4cbd8" stroke-width="0.72"/>
<path d="M460.93 385.47Q457.34 344.66 473.37 306.97" fill="none" stroke="#b4cbd8" stroke-width="0.45"/>
<path d="M460.93 385.47Q449.57 340.00 460.93 294.53" fill="none" stroke="#b4cbd8" stroke-width="0.59"/>
<path d="M460.93 385.47Q440.74 337.97 445.27 286.55" fill="none" stroke="#b4cbd8" stroke-width="0.59"/>
<path d="M460.93 385.47Q431.71 338.76 427.90 283.80" fill="none" stroke="#b4cbd8" stroke-width="0.78"/>
<path d="M460.93 385.47Q423.37 342.31 410.53 286.55" fill="none" stroke="#b4cbd8" stroke-width="0.65"/>
<path d="M460.93 385.47Q416.53 348.26 394.87 294.53" fill="none" stroke="#b4cbd8" stroke-width="0.59"/>
<path d="M460.93 385.47Q411.87 356.03 382.43 306.97" fill="none" stroke="#b4cbd8" stroke-width="0.52"/>
<path d="M460.93 385.47Q409.84 364.86 374.45 322.63" fill="none" stroke="#b4cbd8" stroke-width="0.59"/>
<path d="M460.93 385.47Q410.63 373.89 371.70 340.00" fill="none" stroke="#b4cbd8" stroke-width="0.39"/>
<path d="M460.93 385.47Q414.18 382.23 374.45 357.37" fill="none" stroke="#b4cbd8" stroke-width="0.65"/>
<path d="M460.93 385.47Q420.13 389.06 382.43 373.03" fill="none" stroke="#b4cbd8" stroke-width="0.72"/>
<path d="M460.93 385.47Q427.90 393.73 394.87 385.47" fill="none" stroke="#b4cbd8" stroke-width="0.72"/>
<path d="M460.93 385.47Q436.73 395.76 410.53 393.45" fill="none" stroke="#b4cbd8" stroke-width="0.52"/>
<path d="M460.93 385.47Q445.76 394.96 427.90 396.20" fill="none" stroke="#b4cbd8" stroke-width="0.59"/>
<path d="M460.93 385.47Q454.10 391.42 445.27 393.45" fill="none" stroke="#b4cbd8" stroke-width="0.91"/>
<path d="M460.93 385.47Q465.60 377.70 473.37 373.03" fill="none" stroke="#b4cbd8" stroke-width="0.65"/>
<path d="M460.93 385.47Q467.63 368.86 481.35 357.37" fill="none" stroke="#b4cbd8" stroke-width="0.65"/>
<path d="M460.93 385.47C472.93 388.47 474.93 401.47 467.93 400.47C463.93 397.47 462.93 390.47 460.93 385.47" fill="none" stroke="#b4cbd8" stroke-width="0.7"/>
<text class="l" x="471.90" y="401.40" font-size="4.1" text-anchor="middle" stroke="#000">1.6</text>
<text class="l" x="452.30" y="391.80" font-size="4.1" text-anchor="middle" stroke="#000">1.1</text>
<circle cx="484.10" cy="340.00" r="1.2" fill="#e02020"/>
<circle cx="481.35" cy="322.63" r="1.3" fill="#3a6ea5"/>
<circle cx="473.37" cy="306.97" r="5.5" fill="#43a43a"/>
<circle cx="460.93" cy="294.53" r="2.0" fill="#8e30a0"/>
<circle cx="445.27" cy="286.55" r="1.8" fill="#f0963a"/>
<circle cx="427.90" cy="283.80" r="1.6" fill="#f070a0"/>
<circle cx="410.53" cy="286.55" r="1.6" fill="#b88ccc"/>
<circle cx="394.87" cy="294.53" r="1.3" fill="#a04820"/>
<circle cx="382.43" cy="306.97" r="1.4" fill="#70b0e0"/>
<circle cx="374.45" cy="322.63" r="1.4" fill="#2a2050"/>
<circle cx="371.70" cy="340.00" r="1.3" fill="#1e9060"/>
<circle cx="374.45" cy="357.37" r="2.3" fill="#a8d47c"/>
<circle cx="382.43" cy="373.03" r="1.9" fill="#e0b020"/>
<circle cx="394.87" cy="385.47" r="4.8" fill="#f08484"/>
<circle cx="410.53" cy="393.45" r="1.5" fill="#e0207a"/>
<circle cx="427.90" cy="396.20" r="1.4" fill="#8b1a3a"/>
<circle cx="445.27" cy="393.45" r="2.1" fill="#3cb8b0"/>
<circle cx="473.37" cy="373.03" r="3.7" fill="#d02050"/>
<circle cx="481.35" cy="357.37" r="2.8" fill="#4b2d83"/>
<text class="l" x="433.80" y="322.50" font-size="4.1" text-anchor="middle" stroke="#000">1.5</text>
<text class="l" x="445.40" y="323.00" font-size="4.1" text-anchor="middle" stroke="#000">0.8</text>
<text class="l" x="456.00" y="328.80" font-size="4.1" text-anchor="middle" stroke="#000">0.8</text>
<text class="l" x="464.60" y="337.80" font-size="4.1" text-anchor="middle" stroke="#000">0.4</text>
<text class="l" x="470.40" y="345.50" font-size="4.1" text-anchor="middle" stroke="#000">1.3</text>
<text class="l" x="473.50" y="355.70" font-size="4.1" text-anchor="middle" stroke="#000">0.7</text>
<text class="l" x="423.00" y="325.90" font-size="4.1" text-anchor="middle" stroke="#000">1.1</text>
<text class="l" x="413.00" y="331.70" font-size="4.1" text-anchor="middle" stroke="#000">0.8</text>
<text class="l" x="405.80" y="340.00" font-size="4.1" text-anchor="middle" stroke="#000">0.7</text>
<text class="l" x="401.20" y="350.30" font-size="4.1" text-anchor="middle" stroke="#000">0.8</text>
<text class="l" x="399.60" y="361.10" font-size="4.1" text-anchor="middle" stroke="#000">0.1</text>
<text class="l" x="404.40" y="374.00" font-size="4.1" text-anchor="middle" stroke="#000">1.1</text>
<text class="l" x="409.60" y="383.00" font-size="4.1" text-anchor="middle" stroke="#000">1.4</text>
<text class="l" x="421.20" y="390.00" font-size="4.1" text-anchor="middle" stroke="#000">1.3</text>
<text class="l" x="428.50" y="394.20" font-size="4.1" text-anchor="middle" stroke="#000">0.9</text>
<text class="l" x="438.80" y="395.10" font-size="4.1" text-anchor="middle" stroke="#000">1.8</text>
<text class="l" x="466.70" y="379.80" font-size="4.1" text-anchor="middle" stroke="#000">1.2</text>
<text class="l" x="471.90" y="367.30" font-size="4.1" text-anchor="middle" stroke="#000">1</text>
<text class="l" x="380.40" y="286.55" font-size="5.0" fill="#111" stroke="#111">F3_CCL19</text>
<text class="l" x="412.00" y="281.15" font-size="5.0" fill="#111" stroke="#111">F2_PI16</text>
<text class="l" x="368.80" y="298.05" font-size="5.0" fill="#111" stroke="#111">F4_COCH</text>
<text class="l" x="351.00" y="312.95" font-size="5.0" fill="#111" stroke="#111">F4_COL11A1</text>
<text class="l" x="352.00" y="324.45" font-size="5.0" fill="#111" stroke="#111">F5_CPE</text>
<text class="l" x="344.20" y="344.25" font-size="5.0" fill="#111" stroke="#111">F5_NGFR</text>
<text class="l" x="344.20" y="363.75" font-size="5.0" fill="#111" stroke="#111">F6_WNT5A</text>
<text class="l" x="356.30" y="377.35" font-size="5.0" fill="#111" stroke="#111">F7_NREP</text>
<text class="l" x="361.20" y="390.75" font-size="5.0" fill="#111" stroke="#111">Keratinocyte</text>
<text class="l" x="387.70" y="397.95" font-size="5.0" fill="#111" stroke="#111">Mast cell</text>
<text class="l" x="403.80" y="402.95" font-size="5.0" fill="#111" stroke="#111">Melanocyte</text>
<text class="l" x="437.30" y="400.05" font-size="5.0" fill="#111" stroke="#111">Myeloid cell</text>
<text class="l" x="456.90" y="392.75" font-size="5.0" fill="#111" stroke="#111">Nerve cell</text>
<text class="l" x="479.20" y="377.75" font-size="5.0" fill="#111" stroke="#111">Smooth muscle</text>
<text class="l" x="486.30" y="359.05" font-size="5.0" fill="#111" stroke="#111">T cell</text>
<text class="l" x="486.90" y="341.75" font-size="5.0" fill="#111" stroke="#111">B/Plasma cell</text>
<text class="l" x="485.00" y="322.95" font-size="5.0" fill="#111" stroke="#111">Eccrine gland</text>
<text class="l" x="481.50" y="304.65" font-size="5.0" fill="#111" stroke="#111">Endothelial</text>
<text class="l" x="455.20" y="290.75" font-size="5.0" fill="#111" stroke="#111">F1_APCDD1</text>
<text class="l" x="435.80" y="281.75" font-size="5.0" fill="#111" stroke="#111">F2/3_EFEMP1</text>
<defs><linearGradient id="gspec" x1="0" x2="0" y1="1" y2="0"><stop offset="0.0" stop-color="#5e4fa2"/><stop offset="0.1" stop-color="#3288bd"/><stop offset="0.2" stop-color="#66c2a5"/><stop offset="0.3" stop-color="#abdda4"/><stop offset="0.4" stop-color="#e6f598"/><stop offset="0.5" stop-color="#ffffbf"/><stop offset="0.6" stop-color="#fee08b"/><stop offset="0.7" stop-color="#fdae61"/><stop offset="0.8" stop-color="#f46d43"/><stop offset="0.9" stop-color="#d53e4f"/><stop offset="1.0" stop-color="#9e0142"/></linearGradient></defs>
<text class="l" x="3.00" y="436.20" font-size="18" stroke="#000" style="stroke-width:0">F</text>
<rect x="85" y="446.6" width="127.7" height="89.3" fill="#fff" stroke="#555" stroke-width="0.55"/>
<path d="M85.3 457.00H212.9" stroke="#f2f2f2" stroke-width="0.35"/>
<path d="M85.3 474.20H212.9" stroke="#f2f2f2" stroke-width="0.35"/>
<path d="M85.3 491.40H212.9" stroke="#f2f2f2" stroke-width="0.35"/>
<path d="M85.3 508.60H212.9" stroke="#f2f2f2" stroke-width="0.35"/>
<path d="M85.3 525.80H212.9" stroke="#f2f2f2" stroke-width="0.35"/>
<path d="M92.70 446.9V534.9" stroke="#f2f2f2" stroke-width="0.35"/>
<path d="M105.16 446.9V534.9" stroke="#f2f2f2" stroke-width="0.35"/>
<path d="M117.62 446.9V534.9" stroke="#f2f2f2" stroke-width="0.35"/>
<path d="M130.08 446.9V534.9" stroke="#f2f2f2" stroke-width="0.35"/>
<path d="M142.54 446.9V534.9" stroke="#f2f2f2" stroke-width="0.35"/>
<path d="M155.00 446.9V534.9" stroke="#f2f2f2" stroke-width="0.35"/>
<path d="M167.46 446.9V534.9" stroke="#f2f2f2" stroke-width="0.35"/>
<path d="M179.92 446.9V534.9" stroke="#f2f2f2" stroke-width="0.35"/>
<path d="M192.38 446.9V534.9" stroke="#f2f2f2" stroke-width="0.35"/>
<path d="M204.84 446.9V534.9" stroke="#f2f2f2" stroke-width="0.35"/>
<path d="M83.6 457.00h1.4" stroke="#333" stroke-width="0.4"/>
<text class="l" x="82.30" y="459.25" font-size="6.5" text-anchor="end" fill="#111" stroke="#111">COL1A1 − (ITGA1+ITGB1)</text>
<circle cx="92.70" cy="457.00" r="2.45" fill="#a8203a"/>
<circle cx="105.16" cy="457.00" r="2.45" fill="#d9503f"/>
<circle cx="117.62" cy="457.00" r="2.45" fill="#c02840"/>
<circle cx="130.08" cy="457.00" r="2.45" fill="#d03a40"/>
<circle cx="142.54" cy="457.00" r="2.45" fill="#d03a40"/>
<circle cx="155.00" cy="457.00" r="2.45" fill="#d53e3e"/>
<circle cx="167.46" cy="457.00" r="2.45" fill="#f08040"/>
<circle cx="179.92" cy="457.00" r="2.45" fill="#f8b060"/>
<circle cx="192.38" cy="457.00" r="2.45" fill="#a01030"/>
<circle cx="204.84" cy="457.00" r="2.45" fill="#901030"/>
<path d="M83.6 474.20h1.4" stroke="#333" stroke-width="0.4"/>
<text class="l" x="82.30" y="476.45" font-size="6.5" text-anchor="end" fill="#111" stroke="#111">COL1A2 − (ITGA1+ITGB1)</text>
<circle cx="92.70" cy="474.20" r="2.45" fill="#c8283c"/>
<circle cx="105.16" cy="474.20" r="2.45" fill="#e0553f"/>
<circle cx="117.62" cy="474.20" r="2.45" fill="#c8283c"/>
<circle cx="130.08" cy="474.20" r="2.45" fill="#d8403f"/>
<circle cx="142.54" cy="474.20" r="2.45" fill="#d8403f"/>
<circle cx="155.00" cy="474.20" r="2.45" fill="#d8403f"/>
<circle cx="167.46" cy="474.20" r="2.45" fill="#f08040"/>
<circle cx="179.92" cy="474.20" r="2.45" fill="#f8a858"/>
<circle cx="192.38" cy="474.20" r="2.45" fill="#c02038"/>
<circle cx="204.84" cy="474.20" r="2.45" fill="#b01838"/>
<path d="M83.6 491.40h1.4" stroke="#333" stroke-width="0.4"/>
<text class="l" x="82.30" y="493.65" font-size="6.5" text-anchor="end" fill="#111" stroke="#111">NEGR1 − NEGR1</text>
<circle cx="92.70" cy="491.40" r="2.45" fill="#4090a8"/>
<circle cx="105.16" cy="491.40" r="2.45" fill="#4090a8"/>
<circle cx="117.62" cy="491.40" r="2.45" fill="#60b8a0"/>
<circle cx="130.08" cy="491.40" r="2.45" fill="#88cc98"/>
<circle cx="155.00" cy="491.40" r="2.45" fill="#80c8a0"/>
<circle cx="167.46" cy="491.40" r="2.45" fill="#68bca0"/>
<circle cx="179.92" cy="491.40" r="2.45" fill="#4070b0"/>
<circle cx="192.38" cy="491.40" r="2.45" fill="#4898a8"/>
<circle cx="204.84" cy="491.40" r="2.45" fill="#3880b0"/>
<path d="M83.6 508.60h1.4" stroke="#333" stroke-width="0.4"/>
<text class="l" x="82.30" y="510.85" font-size="6.5" text-anchor="end" fill="#111" stroke="#111">TNFSF12 − TNFRSF12A</text>
<circle cx="117.62" cy="508.60" r="2.45" fill="#4858a0"/>
<circle cx="142.54" cy="508.60" r="2.45" fill="#4070b0"/>
<circle cx="204.84" cy="508.60" r="2.45" fill="#5a3a8a"/>
<path d="M83.6 525.80h1.4" stroke="#333" stroke-width="0.4"/>
<text class="l" x="82.30" y="528.05" font-size="6.5" text-anchor="end" fill="#111" stroke="#111">WNT5A − MCAM</text>
<circle cx="192.38" cy="525.80" r="2.45" fill="#50a8a0"/>
<circle cx="204.84" cy="525.80" r="2.45" fill="#50a8a0"/>
<path d="M92.70 535.9v1.4" stroke="#333" stroke-width="0.4"/>
<text class="l" x="95.00" y="538.20" font-size="6.68" text-anchor="end" fill="#111" stroke="#111" transform="rotate(-90 95.00 538.20)">F1_APCDD1 −&gt; Nerve cell</text>
<path d="M105.16 535.9v1.4" stroke="#333" stroke-width="0.4"/>
<text class="l" x="107.46" y="538.20" font-size="6.68" text-anchor="end" fill="#111" stroke="#111" transform="rotate(-90 107.46 538.20)">F2/3_EFEMP1 −&gt; Nerve cell</text>
<path d="M117.62 535.9v1.4" stroke="#333" stroke-width="0.4"/>
<text class="l" x="119.92" y="538.20" font-size="6.68" text-anchor="end" fill="#111" stroke="#111" transform="rotate(-90 119.92 538.20)">F2_PI16 −&gt; Nerve cell</text>
<path d="M130.08 535.9v1.4" stroke="#333" stroke-width="0.4"/>
<text class="l" x="132.38" y="538.20" font-size="6.68" text-anchor="end" fill="#111" stroke="#111" transform="rotate(-90 132.38 538.20)">F3_CCL19 −&gt; Nerve cell</text>
<path d="M142.54 535.9v1.4" stroke="#333" stroke-width="0.4"/>
<text class="l" x="144.84" y="538.20" font-size="6.68" text-anchor="end" fill="#111" stroke="#111" transform="rotate(-90 144.84 538.20)">F4_COCH −&gt; Nerve cell</text>
<path d="M155.00 535.9v1.4" stroke="#333" stroke-width="0.4"/>
<text class="l" x="157.30" y="538.20" font-size="6.68" text-anchor="end" fill="#111" stroke="#111" transform="rotate(-90 157.30 538.20)">F4_COL11A1 −&gt; Nerve cell</text>
<path d="M167.46 535.9v1.4" stroke="#333" stroke-width="0.4"/>
<text class="l" x="169.76" y="538.20" font-size="6.68" text-anchor="end" fill="#111" stroke="#111" transform="rotate(-90 169.76 538.20)">F5_CPE −&gt; Nerve cell</text>
<path d="M179.92 535.9v1.4" stroke="#333" stroke-width="0.4"/>
<text class="l" x="182.22" y="538.20" font-size="6.68" text-anchor="end" fill="#111" stroke="#111" transform="rotate(-90 182.22 538.20)">F5_NGFR −&gt; Nerve cell</text>
<path d="M192.38 535.9v1.4" stroke="#333" stroke-width="0.4"/>
<text class="l" x="194.68" y="538.20" font-size="6.68" text-anchor="end" fill="#111" stroke="#111" transform="rotate(-90 194.68 538.20)">F6_WNT5A −&gt; Nerve cell</text>
<path d="M204.84 535.9v1.4" stroke="#333" stroke-width="0.4"/>
<text class="l" x="207.14" y="538.20" font-size="6.68" text-anchor="end" fill="#111" stroke="#111" transform="rotate(-90 207.14 538.20)">F7_NREP −&gt; Nerve cell</text>
<text class="l" x="221.00" y="456.60" font-size="4.0" fill="#222" stroke="#222">p−value</text>
<circle cx="225" cy="464.6" r="2.4" fill="#000"/>
<text class="l" x="231.90" y="465.70" font-size="3.0" fill="#222" stroke="#222">p &lt; 0.01</text>
<text class="l" x="221.00" y="482.90" font-size="4.0" fill="#222" stroke="#222">Commun. Prob.</text>
<rect x="221" y="486.4" width="4" height="42.7" fill="url(#gspec)"/>
<text class="l" x="227.30" y="487.50" font-size="2.9" fill="#222" stroke="#222">max</text>
<text class="l" x="227.30" y="530.50" font-size="2.9" fill="#222" stroke="#222">min</text>
<text class="l" x="269.10" y="436.20" font-size="18" stroke="#000" style="stroke-width:0">G</text>
<rect x="354.2" y="446.6" width="122.2" height="89.4" fill="#fff" stroke="#555" stroke-width="0.55"/>
<path d="M354.5 459.50H476.1" stroke="#f2f2f2" stroke-width="0.35"/>
<path d="M354.5 481.00H476.1" stroke="#f2f2f2" stroke-width="0.35"/>
<path d="M354.5 502.50H476.1" stroke="#f2f2f2" stroke-width="0.35"/>
<path d="M354.5 524.00H476.1" stroke="#f2f2f2" stroke-width="0.35"/>
<path d="M360.80 447.1V536.1" stroke="#f2f2f2" stroke-width="0.35"/>
<path d="M372.86 447.1V536.1" stroke="#f2f2f2" stroke-width="0.35"/>
<path d="M384.91 447.1V536.1" stroke="#f2f2f2" stroke-width="0.35"/>
<path d="M396.97 447.1V536.1" stroke="#f2f2f2" stroke-width="0.35"/>
<path d="M409.02 447.1V536.1" stroke="#f2f2f2" stroke-width="0.35"/>
<path d="M421.07 447.1V536.1" stroke="#f2f2f2" stroke-width="0.35"/>
<path d="M433.13 447.1V536.1" stroke="#f2f2f2" stroke-width="0.35"/>
<path d="M445.19 447.1V536.1" stroke="#f2f2f2" stroke-width="0.35"/>
<path d="M457.24 447.1V536.1" stroke="#f2f2f2" stroke-width="0.35"/>
<path d="M469.30 447.1V536.1" stroke="#f2f2f2" stroke-width="0.35"/>
<path d="M352.8 459.50h1.4" stroke="#333" stroke-width="0.4"/>
<text class="l" x="351.30" y="461.75" font-size="6.5" text-anchor="end" fill="#111" stroke="#111">SLIT2 − ROBO1</text>
<circle cx="384.91" cy="459.50" r="3.3" fill="#50a8a0"/>
<circle cx="396.97" cy="459.50" r="3.3" fill="#98d098"/>
<circle cx="409.02" cy="459.50" r="3.3" fill="#80c8a0"/>
<circle cx="421.07" cy="459.50" r="3.3" fill="#98d498"/>
<circle cx="433.13" cy="459.50" r="3.3" fill="#60b8a0"/>
<circle cx="445.19" cy="459.50" r="3.3" fill="#4070b0"/>
<circle cx="457.24" cy="459.50" r="3.3" fill="#98d498"/>
<circle cx="469.30" cy="459.50" r="3.3" fill="#90d098"/>
<path d="M352.8 481.00h1.4" stroke="#333" stroke-width="0.4"/>
<text class="l" x="351.30" y="483.25" font-size="6.5" text-anchor="end" fill="#111" stroke="#111">SLITRK6 − PTPRS</text>
<circle cx="384.91" cy="481.00" r="3.3" fill="#4060a8"/>
<circle cx="396.97" cy="481.00" r="3.3" fill="#4868b0"/>
<circle cx="409.02" cy="481.00" r="3.3" fill="#4870b0"/>
<circle cx="469.30" cy="481.00" r="3.3" fill="#5a3e98"/>
<path d="M352.8 502.50h1.4" stroke="#333" stroke-width="0.4"/>
<text class="l" x="351.30" y="504.75" font-size="6.5" text-anchor="end" fill="#111" stroke="#111">SEMA3B − (NRP2+PLXNA2)</text>
<circle cx="409.02" cy="502.50" r="3.3" fill="#a81838"/>
<path d="M352.8 524.00h1.4" stroke="#333" stroke-width="0.4"/>
<text class="l" x="351.30" y="526.25" font-size="6.5" text-anchor="end" fill="#111" stroke="#111">SEMA3C − (NRP1+NRP2)</text>
<circle cx="469.30" cy="524.00" r="3.3" fill="#f8d868"/>
<path d="M360.80 536v1.4" stroke="#333" stroke-width="0.4"/>
<text class="l" x="363.10" y="539.30" font-size="6.6" text-anchor="end" fill="#111" stroke="#111" transform="rotate(-90 363.10 539.30)">Nerve cell −&gt; F1_APCDD1</text>
<path d="M372.86 536v1.4" stroke="#333" stroke-width="0.4"/>
<text class="l" x="375.16" y="539.30" font-size="6.6" text-anchor="end" fill="#111" stroke="#111" transform="rotate(-90 375.16 539.30)">Nerve cell −&gt; F2/3_EFEMP1</text>
<path d="M384.91 536v1.4" stroke="#333" stroke-width="0.4"/>
<text class="l" x="387.21" y="539.30" font-size="6.6" text-anchor="end" fill="#111" stroke="#111" transform="rotate(-90 387.21 539.30)">Nerve cell −&gt; F2_PI16</text>
<path d="M396.97 536v1.4" stroke="#333" stroke-width="0.4"/>
<text class="l" x="399.27" y="539.30" font-size="6.6" text-anchor="end" fill="#111" stroke="#111" transform="rotate(-90 399.27 539.30)">Nerve cell −&gt; F3_CCL19</text>
<path d="M409.02 536v1.4" stroke="#333" stroke-width="0.4"/>
<text class="l" x="411.32" y="539.30" font-size="6.6" text-anchor="end" fill="#111" stroke="#111" transform="rotate(-90 411.32 539.30)">Nerve cell −&gt; F4_COCH</text>
<path d="M421.07 536v1.4" stroke="#333" stroke-width="0.4"/>
<text class="l" x="423.38" y="539.30" font-size="6.6" text-anchor="end" fill="#111" stroke="#111" transform="rotate(-90 423.38 539.30)">Nerve cell −&gt; F4_COL11A1</text>
<path d="M433.13 536v1.4" stroke="#333" stroke-width="0.4"/>
<text class="l" x="435.43" y="539.30" font-size="6.6" text-anchor="end" fill="#111" stroke="#111" transform="rotate(-90 435.43 539.30)">Nerve cell −&gt; F5_CPE</text>
<path d="M445.19 536v1.4" stroke="#333" stroke-width="0.4"/>
<text class="l" x="447.49" y="539.30" font-size="6.6" text-anchor="end" fill="#111" stroke="#111" transform="rotate(-90 447.49 539.30)">Nerve cell −&gt; F5_NGFR</text>
<path d="M457.24 536v1.4" stroke="#333" stroke-width="0.4"/>
<text class="l" x="459.54" y="539.30" font-size="6.6" text-anchor="end" fill="#111" stroke="#111" transform="rotate(-90 459.54 539.30)">Nerve cell −&gt; F6_WNT5A</text>
<path d="M469.30 536v1.4" stroke="#333" stroke-width="0.4"/>
<text class="l" x="471.60" y="539.30" font-size="6.6" text-anchor="end" fill="#111" stroke="#111" transform="rotate(-90 471.60 539.30)">Nerve cell −&gt; F7_NREP</text>
<text class="l" x="485.00" y="452.60" font-size="4.0" fill="#222" stroke="#222">Commun. Prob.</text>
<rect x="485.3" y="455.9" width="3.5" height="42.9" fill="url(#gspec)"/>
<text class="l" x="490.80" y="457.50" font-size="2.9" fill="#222" stroke="#222">max</text>
<text class="l" x="490.80" y="500.30" font-size="2.9" fill="#222" stroke="#222">min</text>
<text class="l" x="485.00" y="514.10" font-size="4.0" fill="#222" stroke="#222">p−value</text>
<circle cx="488.8" cy="521.3" r="1.25" fill="#000"/>
<circle cx="488.8" cy="530" r="3.2" fill="#000"/>
<text class="l" x="496.10" y="522.40" font-size="3.0" fill="#222" stroke="#222">p &lt; 0.05</text>
<text class="l" x="496.10" y="531.10" font-size="3.0" fill="#222" stroke="#222">p &lt; 0.01</text>
</svg>
</body></html>
